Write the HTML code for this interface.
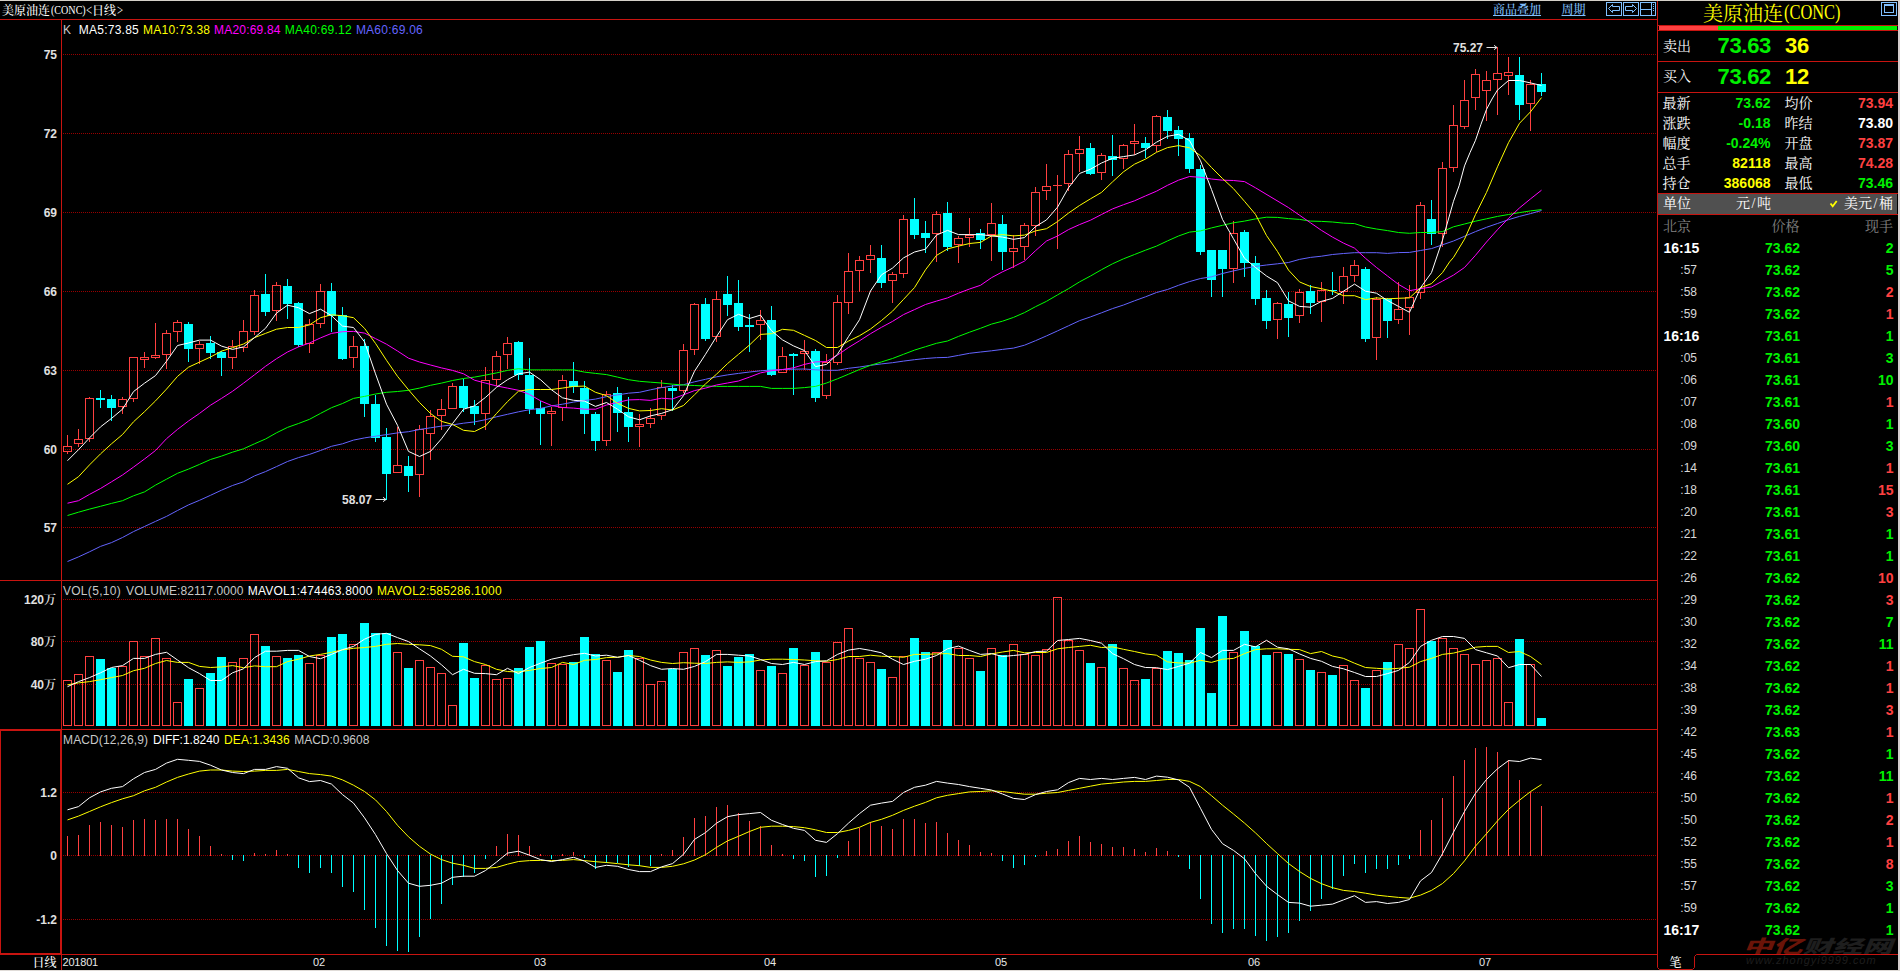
<!DOCTYPE html>
<html><head><meta charset="utf-8"><title>美原油连(CONC)</title>
<style>
html,body{margin:0;padding:0;background:#000;}
body{width:1900px;height:971px;position:relative;overflow:hidden;font-family:'Liberation Sans','Noto Serif CJK SC',sans-serif;}
svg{position:absolute;left:0;top:0;}
.t{position:absolute;white-space:nowrap;}
.sf{font-family:'Liberation Serif',serif;}
.cj{font-family:'Noto Serif CJK SC',serif;}
u{text-underline-offset:1px;}
</style></head><body>
<svg width="1900" height="971" viewBox="0 0 1900 971" shape-rendering="crispEdges">
<line x1="63" y1="54.5" x2="1657" y2="54.5" stroke="#980000" stroke-dasharray="1 1"/>
<line x1="63" y1="133.5" x2="1657" y2="133.5" stroke="#980000" stroke-dasharray="1 1"/>
<line x1="63" y1="212.5" x2="1657" y2="212.5" stroke="#980000" stroke-dasharray="1 1"/>
<line x1="63" y1="291.5" x2="1657" y2="291.5" stroke="#980000" stroke-dasharray="1 1"/>
<line x1="63" y1="370.5" x2="1657" y2="370.5" stroke="#980000" stroke-dasharray="1 1"/>
<line x1="63" y1="449.5" x2="1657" y2="449.5" stroke="#980000" stroke-dasharray="1 1"/>
<line x1="63" y1="527.5" x2="1657" y2="527.5" stroke="#980000" stroke-dasharray="1 1"/>
<line x1="63" y1="599.5" x2="1657" y2="599.5" stroke="#980000" stroke-dasharray="1 1"/>
<line x1="63" y1="641.5" x2="1657" y2="641.5" stroke="#980000" stroke-dasharray="1 1"/>
<line x1="63" y1="684.5" x2="1657" y2="684.5" stroke="#980000" stroke-dasharray="1 1"/>
<line x1="63" y1="792.5" x2="1657" y2="792.5" stroke="#980000" stroke-dasharray="1 1"/>
<line x1="63" y1="855.5" x2="1657" y2="855.5" stroke="#980000" stroke-dasharray="1 1"/>
<line x1="63" y1="919.5" x2="1657" y2="919.5" stroke="#980000" stroke-dasharray="1 1"/>
<rect x="67" y="435" width="1" height="11" fill="#ff4040"/>
<rect x="67" y="452" width="1" height="2" fill="#ff4040"/>
<rect x="63.5" y="446.5" width="8" height="5" fill="none" stroke="#ff4040"/>
<rect x="78" y="429" width="1" height="10" fill="#ff4040"/>
<rect x="78" y="444" width="1" height="3" fill="#ff4040"/>
<rect x="74.5" y="439.5" width="8" height="4" fill="none" stroke="#ff4040"/>
<rect x="89" y="397" width="1" height="1" fill="#ff4040"/>
<rect x="89" y="439" width="1" height="3" fill="#ff4040"/>
<rect x="85.5" y="398.5" width="8" height="40" fill="none" stroke="#ff4040"/>
<rect x="100" y="390" width="1" height="18" fill="#00ffff"/>
<rect x="96" y="398" width="9" height="2" fill="#00ffff"/>
<rect x="111" y="395" width="1" height="26" fill="#00ffff"/>
<rect x="107" y="399" width="9" height="9" fill="#00ffff"/>
<rect x="122" y="397" width="1" height="2" fill="#ff4040"/>
<rect x="122" y="407" width="1" height="7" fill="#ff4040"/>
<rect x="118.5" y="399.5" width="8" height="7" fill="none" stroke="#ff4040"/>
<rect x="133" y="399" width="1" height="3" fill="#ff4040"/>
<rect x="129.5" y="357.5" width="8" height="41" fill="none" stroke="#ff4040"/>
<rect x="144" y="352" width="1" height="5" fill="#ff4040"/>
<rect x="144" y="360" width="1" height="8" fill="#ff4040"/>
<rect x="140.5" y="357.5" width="8" height="2" fill="none" stroke="#ff4040"/>
<rect x="155" y="323" width="1" height="32" fill="#ff4040"/>
<rect x="155" y="358" width="1" height="1" fill="#ff4040"/>
<rect x="151.5" y="355.5" width="8" height="2" fill="none" stroke="#ff4040"/>
<rect x="166" y="330" width="1" height="3" fill="#ff4040"/>
<rect x="166" y="355" width="1" height="14" fill="#ff4040"/>
<rect x="162.5" y="333.5" width="8" height="21" fill="none" stroke="#ff4040"/>
<rect x="177" y="320" width="1" height="2" fill="#ff4040"/>
<rect x="177" y="332" width="1" height="10" fill="#ff4040"/>
<rect x="173.5" y="322.5" width="8" height="9" fill="none" stroke="#ff4040"/>
<rect x="188" y="322" width="1" height="40" fill="#00ffff"/>
<rect x="184" y="324" width="9" height="25" fill="#00ffff"/>
<rect x="199" y="341" width="1" height="3" fill="#ff4040"/>
<rect x="199" y="349" width="1" height="15" fill="#ff4040"/>
<rect x="195.5" y="344.5" width="8" height="4" fill="none" stroke="#ff4040"/>
<rect x="210" y="336" width="1" height="23" fill="#00ffff"/>
<rect x="206" y="343" width="9" height="10" fill="#00ffff"/>
<rect x="221" y="351" width="1" height="25" fill="#00ffff"/>
<rect x="217" y="352" width="9" height="6" fill="#00ffff"/>
<rect x="232" y="340" width="1" height="6" fill="#ff4040"/>
<rect x="232" y="358" width="1" height="11" fill="#ff4040"/>
<rect x="228.5" y="346.5" width="8" height="11" fill="none" stroke="#ff4040"/>
<rect x="243" y="320" width="1" height="11" fill="#ff4040"/>
<rect x="243" y="348" width="1" height="4" fill="#ff4040"/>
<rect x="239.5" y="331.5" width="8" height="16" fill="none" stroke="#ff4040"/>
<rect x="254" y="290" width="1" height="5" fill="#ff4040"/>
<rect x="254" y="332" width="1" height="3" fill="#ff4040"/>
<rect x="250.5" y="295.5" width="8" height="36" fill="none" stroke="#ff4040"/>
<rect x="265" y="274" width="1" height="42" fill="#00ffff"/>
<rect x="261" y="294" width="9" height="18" fill="#00ffff"/>
<rect x="276" y="282" width="1" height="3" fill="#ff4040"/>
<rect x="276" y="311" width="1" height="10" fill="#ff4040"/>
<rect x="272.5" y="285.5" width="8" height="25" fill="none" stroke="#ff4040"/>
<rect x="287" y="279" width="1" height="40" fill="#00ffff"/>
<rect x="283" y="286" width="9" height="18" fill="#00ffff"/>
<rect x="298" y="302" width="1" height="45" fill="#00ffff"/>
<rect x="294" y="303" width="9" height="42" fill="#00ffff"/>
<rect x="309" y="319" width="1" height="5" fill="#ff4040"/>
<rect x="309" y="344" width="1" height="9" fill="#ff4040"/>
<rect x="305.5" y="324.5" width="8" height="19" fill="none" stroke="#ff4040"/>
<rect x="320" y="284" width="1" height="7" fill="#ff4040"/>
<rect x="320" y="324" width="1" height="4" fill="#ff4040"/>
<rect x="316.5" y="291.5" width="8" height="32" fill="none" stroke="#ff4040"/>
<rect x="331" y="283" width="1" height="49" fill="#00ffff"/>
<rect x="327" y="291" width="9" height="25" fill="#00ffff"/>
<rect x="342" y="307" width="1" height="53" fill="#00ffff"/>
<rect x="338" y="315" width="9" height="44" fill="#00ffff"/>
<rect x="353" y="336" width="1" height="10" fill="#ff4040"/>
<rect x="353" y="358" width="1" height="10" fill="#ff4040"/>
<rect x="349.5" y="346.5" width="8" height="11" fill="none" stroke="#ff4040"/>
<rect x="364" y="339" width="1" height="78" fill="#00ffff"/>
<rect x="360" y="346" width="9" height="58" fill="#00ffff"/>
<rect x="375" y="395" width="1" height="47" fill="#00ffff"/>
<rect x="371" y="404" width="9" height="34" fill="#00ffff"/>
<rect x="386" y="428" width="1" height="72" fill="#00ffff"/>
<rect x="382" y="437" width="9" height="37" fill="#00ffff"/>
<rect x="397" y="427" width="1" height="38" fill="#ff4040"/>
<rect x="393.5" y="465.5" width="8" height="7" fill="none" stroke="#ff4040"/>
<rect x="408" y="456" width="1" height="36" fill="#00ffff"/>
<rect x="404" y="466" width="9" height="10" fill="#00ffff"/>
<rect x="419" y="425" width="1" height="4" fill="#ff4040"/>
<rect x="419" y="475" width="1" height="22" fill="#ff4040"/>
<rect x="415.5" y="429.5" width="8" height="45" fill="none" stroke="#ff4040"/>
<rect x="430" y="410" width="1" height="6" fill="#ff4040"/>
<rect x="430" y="434" width="1" height="26" fill="#ff4040"/>
<rect x="426.5" y="416.5" width="8" height="17" fill="none" stroke="#ff4040"/>
<rect x="441" y="399" width="1" height="10" fill="#ff4040"/>
<rect x="441" y="416" width="1" height="14" fill="#ff4040"/>
<rect x="437.5" y="409.5" width="8" height="6" fill="none" stroke="#ff4040"/>
<rect x="452" y="383" width="1" height="3" fill="#ff4040"/>
<rect x="448.5" y="386.5" width="8" height="22" fill="none" stroke="#ff4040"/>
<rect x="463" y="379" width="1" height="33" fill="#00ffff"/>
<rect x="459" y="386" width="9" height="22" fill="#00ffff"/>
<rect x="474" y="400" width="1" height="25" fill="#00ffff"/>
<rect x="470" y="406" width="9" height="8" fill="#00ffff"/>
<rect x="485" y="367" width="1" height="13" fill="#ff4040"/>
<rect x="485" y="414" width="1" height="16" fill="#ff4040"/>
<rect x="481.5" y="380.5" width="8" height="33" fill="none" stroke="#ff4040"/>
<rect x="496" y="351" width="1" height="5" fill="#ff4040"/>
<rect x="496" y="380" width="1" height="6" fill="#ff4040"/>
<rect x="492.5" y="356.5" width="8" height="23" fill="none" stroke="#ff4040"/>
<rect x="507" y="337" width="1" height="6" fill="#ff4040"/>
<rect x="507" y="355" width="1" height="14" fill="#ff4040"/>
<rect x="503.5" y="343.5" width="8" height="11" fill="none" stroke="#ff4040"/>
<rect x="518" y="341" width="1" height="39" fill="#00ffff"/>
<rect x="514" y="342" width="9" height="33" fill="#00ffff"/>
<rect x="529" y="358" width="1" height="56" fill="#00ffff"/>
<rect x="525" y="375" width="9" height="34" fill="#00ffff"/>
<rect x="540" y="401" width="1" height="44" fill="#00ffff"/>
<rect x="536" y="408" width="9" height="6" fill="#00ffff"/>
<rect x="551" y="407" width="1" height="4" fill="#ff4040"/>
<rect x="551" y="414" width="1" height="32" fill="#ff4040"/>
<rect x="547.5" y="411.5" width="8" height="2" fill="none" stroke="#ff4040"/>
<rect x="562" y="375" width="1" height="5" fill="#ff4040"/>
<rect x="562" y="408" width="1" height="13" fill="#ff4040"/>
<rect x="558.5" y="380.5" width="8" height="27" fill="none" stroke="#ff4040"/>
<rect x="573" y="362" width="1" height="31" fill="#00ffff"/>
<rect x="569" y="381" width="9" height="6" fill="#00ffff"/>
<rect x="584" y="381" width="1" height="53" fill="#00ffff"/>
<rect x="580" y="388" width="9" height="26" fill="#00ffff"/>
<rect x="595" y="412" width="1" height="39" fill="#00ffff"/>
<rect x="591" y="414" width="9" height="27" fill="#00ffff"/>
<rect x="606" y="391" width="1" height="3" fill="#ff4040"/>
<rect x="606" y="441" width="1" height="5" fill="#ff4040"/>
<rect x="602.5" y="394.5" width="8" height="46" fill="none" stroke="#ff4040"/>
<rect x="617" y="387" width="1" height="45" fill="#00ffff"/>
<rect x="613" y="393" width="9" height="20" fill="#00ffff"/>
<rect x="628" y="397" width="1" height="45" fill="#00ffff"/>
<rect x="624" y="412" width="9" height="15" fill="#00ffff"/>
<rect x="639" y="414" width="1" height="10" fill="#ff4040"/>
<rect x="639" y="427" width="1" height="20" fill="#ff4040"/>
<rect x="635.5" y="424.5" width="8" height="2" fill="none" stroke="#ff4040"/>
<rect x="650" y="408" width="1" height="10" fill="#ff4040"/>
<rect x="650" y="424" width="1" height="4" fill="#ff4040"/>
<rect x="646.5" y="418.5" width="8" height="5" fill="none" stroke="#ff4040"/>
<rect x="661" y="380" width="1" height="7" fill="#ff4040"/>
<rect x="661" y="416" width="1" height="4" fill="#ff4040"/>
<rect x="657.5" y="387.5" width="8" height="28" fill="none" stroke="#ff4040"/>
<rect x="672" y="385" width="1" height="26" fill="#00ffff"/>
<rect x="668" y="388" width="9" height="3" fill="#00ffff"/>
<rect x="683" y="344" width="1" height="6" fill="#ff4040"/>
<rect x="683" y="391" width="1" height="2" fill="#ff4040"/>
<rect x="679.5" y="350.5" width="8" height="40" fill="none" stroke="#ff4040"/>
<rect x="694" y="303" width="1" height="1" fill="#ff4040"/>
<rect x="694" y="350" width="1" height="5" fill="#ff4040"/>
<rect x="690.5" y="304.5" width="8" height="45" fill="none" stroke="#ff4040"/>
<rect x="705" y="298" width="1" height="43" fill="#00ffff"/>
<rect x="701" y="304" width="9" height="35" fill="#00ffff"/>
<rect x="716" y="291" width="1" height="8" fill="#ff4040"/>
<rect x="716" y="337" width="1" height="5" fill="#ff4040"/>
<rect x="712.5" y="299.5" width="8" height="37" fill="none" stroke="#ff4040"/>
<rect x="727" y="276" width="1" height="40" fill="#00ffff"/>
<rect x="723" y="294" width="9" height="11" fill="#00ffff"/>
<rect x="738" y="280" width="1" height="51" fill="#00ffff"/>
<rect x="734" y="303" width="9" height="24" fill="#00ffff"/>
<rect x="749" y="314" width="1" height="38" fill="#00ffff"/>
<rect x="745" y="325" width="9" height="2" fill="#00ffff"/>
<rect x="760" y="310" width="1" height="10" fill="#ff4040"/>
<rect x="760" y="325" width="1" height="15" fill="#ff4040"/>
<rect x="756.5" y="320.5" width="8" height="4" fill="none" stroke="#ff4040"/>
<rect x="771" y="306" width="1" height="70" fill="#00ffff"/>
<rect x="767" y="320" width="9" height="55" fill="#00ffff"/>
<rect x="782" y="347" width="1" height="9" fill="#ff4040"/>
<rect x="778.5" y="356.5" width="8" height="16" fill="none" stroke="#ff4040"/>
<rect x="793" y="353" width="1" height="42" fill="#00ffff"/>
<rect x="789" y="354" width="9" height="2" fill="#00ffff"/>
<rect x="804" y="340" width="1" height="11" fill="#ff4040"/>
<rect x="804" y="354" width="1" height="16" fill="#ff4040"/>
<rect x="800.5" y="351.5" width="8" height="2" fill="none" stroke="#ff4040"/>
<rect x="815" y="349" width="1" height="53" fill="#00ffff"/>
<rect x="811" y="351" width="9" height="47" fill="#00ffff"/>
<rect x="826" y="354" width="1" height="8" fill="#ff4040"/>
<rect x="826" y="396" width="1" height="3" fill="#ff4040"/>
<rect x="822.5" y="362.5" width="8" height="33" fill="none" stroke="#ff4040"/>
<rect x="837" y="295" width="1" height="7" fill="#ff4040"/>
<rect x="837" y="363" width="1" height="2" fill="#ff4040"/>
<rect x="833.5" y="302.5" width="8" height="60" fill="none" stroke="#ff4040"/>
<rect x="848" y="253" width="1" height="18" fill="#ff4040"/>
<rect x="848" y="303" width="1" height="11" fill="#ff4040"/>
<rect x="844.5" y="271.5" width="8" height="31" fill="none" stroke="#ff4040"/>
<rect x="859" y="256" width="1" height="4" fill="#ff4040"/>
<rect x="859" y="271" width="1" height="21" fill="#ff4040"/>
<rect x="855.5" y="260.5" width="8" height="10" fill="none" stroke="#ff4040"/>
<rect x="870" y="245" width="1" height="10" fill="#ff4040"/>
<rect x="870" y="260" width="1" height="13" fill="#ff4040"/>
<rect x="866.5" y="255.5" width="8" height="4" fill="none" stroke="#ff4040"/>
<rect x="881" y="245" width="1" height="43" fill="#00ffff"/>
<rect x="877" y="258" width="9" height="25" fill="#00ffff"/>
<rect x="892" y="272" width="1" height="2" fill="#ff4040"/>
<rect x="892" y="281" width="1" height="22" fill="#ff4040"/>
<rect x="888.5" y="274.5" width="8" height="6" fill="none" stroke="#ff4040"/>
<rect x="903" y="215" width="1" height="4" fill="#ff4040"/>
<rect x="903" y="274" width="1" height="4" fill="#ff4040"/>
<rect x="899.5" y="219.5" width="8" height="54" fill="none" stroke="#ff4040"/>
<rect x="914" y="198" width="1" height="41" fill="#00ffff"/>
<rect x="910" y="219" width="9" height="16" fill="#00ffff"/>
<rect x="925" y="221" width="1" height="32" fill="#00ffff"/>
<rect x="921" y="233" width="9" height="5" fill="#00ffff"/>
<rect x="936" y="211" width="1" height="3" fill="#ff4040"/>
<rect x="936" y="234" width="1" height="28" fill="#ff4040"/>
<rect x="932.5" y="214.5" width="8" height="19" fill="none" stroke="#ff4040"/>
<rect x="947" y="202" width="1" height="49" fill="#00ffff"/>
<rect x="943" y="213" width="9" height="34" fill="#00ffff"/>
<rect x="958" y="236" width="1" height="2" fill="#ff4040"/>
<rect x="958" y="245" width="1" height="18" fill="#ff4040"/>
<rect x="954.5" y="238.5" width="8" height="6" fill="none" stroke="#ff4040"/>
<rect x="969" y="218" width="1" height="17" fill="#ff4040"/>
<rect x="969" y="238" width="1" height="9" fill="#ff4040"/>
<rect x="965.5" y="235.5" width="8" height="2" fill="none" stroke="#ff4040"/>
<rect x="980" y="229" width="1" height="20" fill="#00ffff"/>
<rect x="976" y="233" width="9" height="7" fill="#00ffff"/>
<rect x="991" y="203" width="1" height="20" fill="#ff4040"/>
<rect x="991" y="235" width="1" height="26" fill="#ff4040"/>
<rect x="987.5" y="223.5" width="8" height="11" fill="none" stroke="#ff4040"/>
<rect x="1002" y="215" width="1" height="55" fill="#00ffff"/>
<rect x="998" y="224" width="9" height="28" fill="#00ffff"/>
<rect x="1013" y="235" width="1" height="13" fill="#ff4040"/>
<rect x="1013" y="252" width="1" height="16" fill="#ff4040"/>
<rect x="1009.5" y="248.5" width="8" height="3" fill="none" stroke="#ff4040"/>
<rect x="1024" y="223" width="1" height="2" fill="#ff4040"/>
<rect x="1024" y="247" width="1" height="13" fill="#ff4040"/>
<rect x="1020.5" y="225.5" width="8" height="21" fill="none" stroke="#ff4040"/>
<rect x="1035" y="187" width="1" height="5" fill="#ff4040"/>
<rect x="1035" y="226" width="1" height="10" fill="#ff4040"/>
<rect x="1031.5" y="192.5" width="8" height="33" fill="none" stroke="#ff4040"/>
<rect x="1046" y="164" width="1" height="22" fill="#ff4040"/>
<rect x="1046" y="191" width="1" height="9" fill="#ff4040"/>
<rect x="1042.5" y="186.5" width="8" height="4" fill="none" stroke="#ff4040"/>
<rect x="1057" y="175" width="1" height="10" fill="#ff4040"/>
<rect x="1057" y="186" width="1" height="63" fill="#ff4040"/>
<rect x="1053" y="185" width="9" height="1" fill="#ff4040"/>
<rect x="1068" y="150" width="1" height="4" fill="#ff4040"/>
<rect x="1068" y="184" width="1" height="7" fill="#ff4040"/>
<rect x="1064.5" y="154.5" width="8" height="29" fill="none" stroke="#ff4040"/>
<rect x="1079" y="136" width="1" height="13" fill="#ff4040"/>
<rect x="1079" y="154" width="1" height="18" fill="#ff4040"/>
<rect x="1075.5" y="149.5" width="8" height="4" fill="none" stroke="#ff4040"/>
<rect x="1090" y="143" width="1" height="32" fill="#00ffff"/>
<rect x="1086" y="148" width="9" height="26" fill="#00ffff"/>
<rect x="1101" y="153" width="1" height="2" fill="#ff4040"/>
<rect x="1101" y="173" width="1" height="7" fill="#ff4040"/>
<rect x="1097.5" y="155.5" width="8" height="17" fill="none" stroke="#ff4040"/>
<rect x="1112" y="135" width="1" height="41" fill="#00ffff"/>
<rect x="1108" y="156" width="9" height="4" fill="#00ffff"/>
<rect x="1123" y="144" width="1" height="1" fill="#ff4040"/>
<rect x="1123" y="159" width="1" height="10" fill="#ff4040"/>
<rect x="1119.5" y="145.5" width="8" height="13" fill="none" stroke="#ff4040"/>
<rect x="1134" y="124" width="1" height="17" fill="#ff4040"/>
<rect x="1134" y="144" width="1" height="11" fill="#ff4040"/>
<rect x="1130.5" y="141.5" width="8" height="2" fill="none" stroke="#ff4040"/>
<rect x="1145" y="137" width="1" height="21" fill="#00ffff"/>
<rect x="1141" y="143" width="9" height="5" fill="#00ffff"/>
<rect x="1156" y="115" width="1" height="1" fill="#ff4040"/>
<rect x="1156" y="146" width="1" height="6" fill="#ff4040"/>
<rect x="1152.5" y="116.5" width="8" height="29" fill="none" stroke="#ff4040"/>
<rect x="1167" y="110" width="1" height="29" fill="#00ffff"/>
<rect x="1163" y="117" width="9" height="14" fill="#00ffff"/>
<rect x="1178" y="126" width="1" height="30" fill="#00ffff"/>
<rect x="1174" y="130" width="9" height="9" fill="#00ffff"/>
<rect x="1189" y="133" width="1" height="40" fill="#00ffff"/>
<rect x="1185" y="138" width="9" height="31" fill="#00ffff"/>
<rect x="1200" y="165" width="1" height="90" fill="#00ffff"/>
<rect x="1196" y="169" width="9" height="83" fill="#00ffff"/>
<rect x="1211" y="250" width="1" height="47" fill="#00ffff"/>
<rect x="1207" y="250" width="9" height="30" fill="#00ffff"/>
<rect x="1222" y="250" width="1" height="47" fill="#00ffff"/>
<rect x="1218" y="250" width="9" height="19" fill="#00ffff"/>
<rect x="1233" y="221" width="1" height="12" fill="#ff4040"/>
<rect x="1233" y="269" width="1" height="14" fill="#ff4040"/>
<rect x="1229.5" y="233.5" width="8" height="35" fill="none" stroke="#ff4040"/>
<rect x="1244" y="230" width="1" height="47" fill="#00ffff"/>
<rect x="1240" y="232" width="9" height="31" fill="#00ffff"/>
<rect x="1255" y="256" width="1" height="49" fill="#00ffff"/>
<rect x="1251" y="263" width="9" height="36" fill="#00ffff"/>
<rect x="1266" y="290" width="1" height="39" fill="#00ffff"/>
<rect x="1262" y="298" width="9" height="23" fill="#00ffff"/>
<rect x="1277" y="302" width="1" height="1" fill="#ff4040"/>
<rect x="1277" y="320" width="1" height="19" fill="#ff4040"/>
<rect x="1273.5" y="303.5" width="8" height="16" fill="none" stroke="#ff4040"/>
<rect x="1288" y="292" width="1" height="45" fill="#00ffff"/>
<rect x="1284" y="304" width="9" height="14" fill="#00ffff"/>
<rect x="1299" y="289" width="1" height="3" fill="#ff4040"/>
<rect x="1299" y="316" width="1" height="7" fill="#ff4040"/>
<rect x="1295.5" y="292.5" width="8" height="23" fill="none" stroke="#ff4040"/>
<rect x="1310" y="285" width="1" height="29" fill="#00ffff"/>
<rect x="1306" y="291" width="9" height="12" fill="#00ffff"/>
<rect x="1321" y="282" width="1" height="8" fill="#ff4040"/>
<rect x="1321" y="302" width="1" height="20" fill="#ff4040"/>
<rect x="1317.5" y="290.5" width="8" height="11" fill="none" stroke="#ff4040"/>
<rect x="1332" y="272" width="1" height="23" fill="#00ffff"/>
<rect x="1328" y="290" width="9" height="1" fill="#00ffff"/>
<rect x="1343" y="267" width="1" height="9" fill="#ff4040"/>
<rect x="1343" y="292" width="1" height="12" fill="#ff4040"/>
<rect x="1339.5" y="276.5" width="8" height="15" fill="none" stroke="#ff4040"/>
<rect x="1354" y="260" width="1" height="5" fill="#ff4040"/>
<rect x="1354" y="276" width="1" height="6" fill="#ff4040"/>
<rect x="1350.5" y="265.5" width="8" height="10" fill="none" stroke="#ff4040"/>
<rect x="1365" y="267" width="1" height="75" fill="#00ffff"/>
<rect x="1361" y="269" width="9" height="70" fill="#00ffff"/>
<rect x="1376" y="297" width="1" height="2" fill="#ff4040"/>
<rect x="1376" y="338" width="1" height="22" fill="#ff4040"/>
<rect x="1372.5" y="299.5" width="8" height="38" fill="none" stroke="#ff4040"/>
<rect x="1387" y="298" width="1" height="40" fill="#00ffff"/>
<rect x="1383" y="299" width="9" height="22" fill="#00ffff"/>
<rect x="1398" y="282" width="1" height="27" fill="#ff4040"/>
<rect x="1398" y="320" width="1" height="4" fill="#ff4040"/>
<rect x="1394.5" y="309.5" width="8" height="10" fill="none" stroke="#ff4040"/>
<rect x="1409" y="285" width="1" height="12" fill="#ff4040"/>
<rect x="1409" y="308" width="1" height="27" fill="#ff4040"/>
<rect x="1405.5" y="297.5" width="8" height="10" fill="none" stroke="#ff4040"/>
<rect x="1420" y="202" width="1" height="3" fill="#ff4040"/>
<rect x="1420" y="293" width="1" height="6" fill="#ff4040"/>
<rect x="1416.5" y="205.5" width="8" height="87" fill="none" stroke="#ff4040"/>
<rect x="1431" y="200" width="1" height="45" fill="#00ffff"/>
<rect x="1427" y="219" width="9" height="15" fill="#00ffff"/>
<rect x="1442" y="162" width="1" height="6" fill="#ff4040"/>
<rect x="1442" y="234" width="1" height="13" fill="#ff4040"/>
<rect x="1438.5" y="168.5" width="8" height="65" fill="none" stroke="#ff4040"/>
<rect x="1453" y="105" width="1" height="20" fill="#ff4040"/>
<rect x="1453" y="168" width="1" height="4" fill="#ff4040"/>
<rect x="1449.5" y="125.5" width="8" height="42" fill="none" stroke="#ff4040"/>
<rect x="1464" y="80" width="1" height="20" fill="#ff4040"/>
<rect x="1464" y="127" width="1" height="2" fill="#ff4040"/>
<rect x="1460.5" y="100.5" width="8" height="26" fill="none" stroke="#ff4040"/>
<rect x="1475" y="69" width="1" height="5" fill="#ff4040"/>
<rect x="1475" y="98" width="1" height="12" fill="#ff4040"/>
<rect x="1471.5" y="74.5" width="8" height="23" fill="none" stroke="#ff4040"/>
<rect x="1486" y="71" width="1" height="9" fill="#ff4040"/>
<rect x="1486" y="91" width="1" height="30" fill="#ff4040"/>
<rect x="1482.5" y="80.5" width="8" height="10" fill="none" stroke="#ff4040"/>
<rect x="1497" y="47" width="1" height="26" fill="#ff4040"/>
<rect x="1497" y="80" width="1" height="35" fill="#ff4040"/>
<rect x="1493.5" y="73.5" width="8" height="6" fill="none" stroke="#ff4040"/>
<rect x="1508" y="57" width="1" height="15" fill="#ff4040"/>
<rect x="1508" y="76" width="1" height="19" fill="#ff4040"/>
<rect x="1504.5" y="72.5" width="8" height="3" fill="none" stroke="#ff4040"/>
<rect x="1519" y="57" width="1" height="63" fill="#00ffff"/>
<rect x="1515" y="75" width="9" height="30" fill="#00ffff"/>
<rect x="1530" y="80" width="1" height="4" fill="#ff4040"/>
<rect x="1530" y="104" width="1" height="27" fill="#ff4040"/>
<rect x="1526.5" y="84.5" width="8" height="19" fill="none" stroke="#ff4040"/>
<rect x="1541" y="73" width="1" height="23" fill="#00ffff"/>
<rect x="1537" y="84" width="9" height="8" fill="#00ffff"/>
<rect x="63.5" y="680.5" width="8" height="45" fill="none" stroke="#ff4040"/>
<rect x="74.5" y="674.5" width="8" height="51" fill="none" stroke="#ff4040"/>
<rect x="85.5" y="656.5" width="8" height="69" fill="none" stroke="#ff4040"/>
<rect x="96" y="659" width="9" height="67" fill="#00ffff"/>
<rect x="107" y="668" width="9" height="58" fill="#00ffff"/>
<rect x="118.5" y="666.5" width="8" height="59" fill="none" stroke="#ff4040"/>
<rect x="129.5" y="641.5" width="8" height="84" fill="none" stroke="#ff4040"/>
<rect x="140.5" y="656.5" width="8" height="69" fill="none" stroke="#ff4040"/>
<rect x="151.5" y="638.5" width="8" height="87" fill="none" stroke="#ff4040"/>
<rect x="162.5" y="658.5" width="8" height="67" fill="none" stroke="#ff4040"/>
<rect x="173.5" y="702.5" width="8" height="23" fill="none" stroke="#ff4040"/>
<rect x="184" y="679" width="9" height="47" fill="#00ffff"/>
<rect x="195.5" y="688.5" width="8" height="37" fill="none" stroke="#ff4040"/>
<rect x="206" y="673" width="9" height="53" fill="#00ffff"/>
<rect x="217" y="657" width="9" height="69" fill="#00ffff"/>
<rect x="228.5" y="662.5" width="8" height="63" fill="none" stroke="#ff4040"/>
<rect x="239.5" y="658.5" width="8" height="67" fill="none" stroke="#ff4040"/>
<rect x="250.5" y="634.5" width="8" height="91" fill="none" stroke="#ff4040"/>
<rect x="261" y="646" width="9" height="80" fill="#00ffff"/>
<rect x="272.5" y="656.5" width="8" height="69" fill="none" stroke="#ff4040"/>
<rect x="283" y="658" width="9" height="68" fill="#00ffff"/>
<rect x="294" y="655" width="9" height="71" fill="#00ffff"/>
<rect x="305.5" y="663.5" width="8" height="62" fill="none" stroke="#ff4040"/>
<rect x="316.5" y="655.5" width="8" height="70" fill="none" stroke="#ff4040"/>
<rect x="327" y="637" width="9" height="89" fill="#00ffff"/>
<rect x="338" y="634" width="9" height="92" fill="#00ffff"/>
<rect x="349.5" y="644.5" width="8" height="81" fill="none" stroke="#ff4040"/>
<rect x="360" y="623" width="9" height="103" fill="#00ffff"/>
<rect x="371" y="633" width="9" height="93" fill="#00ffff"/>
<rect x="382" y="633" width="9" height="93" fill="#00ffff"/>
<rect x="393.5" y="652.5" width="8" height="73" fill="none" stroke="#ff4040"/>
<rect x="404" y="668" width="9" height="58" fill="#00ffff"/>
<rect x="415.5" y="660.5" width="8" height="65" fill="none" stroke="#ff4040"/>
<rect x="426.5" y="667.5" width="8" height="58" fill="none" stroke="#ff4040"/>
<rect x="437.5" y="673.5" width="8" height="52" fill="none" stroke="#ff4040"/>
<rect x="448.5" y="705.5" width="8" height="20" fill="none" stroke="#ff4040"/>
<rect x="459" y="643" width="9" height="83" fill="#00ffff"/>
<rect x="470" y="678" width="9" height="48" fill="#00ffff"/>
<rect x="481.5" y="665.5" width="8" height="60" fill="none" stroke="#ff4040"/>
<rect x="492.5" y="679.5" width="8" height="46" fill="none" stroke="#ff4040"/>
<rect x="503.5" y="678.5" width="8" height="47" fill="none" stroke="#ff4040"/>
<rect x="514" y="668" width="9" height="58" fill="#00ffff"/>
<rect x="525" y="647" width="9" height="79" fill="#00ffff"/>
<rect x="536" y="641" width="9" height="85" fill="#00ffff"/>
<rect x="547.5" y="663.5" width="8" height="62" fill="none" stroke="#ff4040"/>
<rect x="558.5" y="664.5" width="8" height="61" fill="none" stroke="#ff4040"/>
<rect x="569" y="662" width="9" height="64" fill="#00ffff"/>
<rect x="580" y="637" width="9" height="89" fill="#00ffff"/>
<rect x="591" y="654" width="9" height="72" fill="#00ffff"/>
<rect x="602.5" y="660.5" width="8" height="65" fill="none" stroke="#ff4040"/>
<rect x="613" y="672" width="9" height="54" fill="#00ffff"/>
<rect x="624" y="650" width="9" height="76" fill="#00ffff"/>
<rect x="635.5" y="658.5" width="8" height="67" fill="none" stroke="#ff4040"/>
<rect x="646.5" y="684.5" width="8" height="41" fill="none" stroke="#ff4040"/>
<rect x="657.5" y="681.5" width="8" height="44" fill="none" stroke="#ff4040"/>
<rect x="668" y="669" width="9" height="57" fill="#00ffff"/>
<rect x="679.5" y="652.5" width="8" height="73" fill="none" stroke="#ff4040"/>
<rect x="690.5" y="648.5" width="8" height="77" fill="none" stroke="#ff4040"/>
<rect x="701" y="655" width="9" height="71" fill="#00ffff"/>
<rect x="712.5" y="650.5" width="8" height="75" fill="none" stroke="#ff4040"/>
<rect x="723" y="666" width="9" height="60" fill="#00ffff"/>
<rect x="734" y="657" width="9" height="69" fill="#00ffff"/>
<rect x="745" y="654" width="9" height="72" fill="#00ffff"/>
<rect x="756.5" y="670.5" width="8" height="55" fill="none" stroke="#ff4040"/>
<rect x="767" y="666" width="9" height="60" fill="#00ffff"/>
<rect x="778.5" y="673.5" width="8" height="52" fill="none" stroke="#ff4040"/>
<rect x="789" y="648" width="9" height="78" fill="#00ffff"/>
<rect x="800.5" y="665.5" width="8" height="60" fill="none" stroke="#ff4040"/>
<rect x="811" y="652" width="9" height="74" fill="#00ffff"/>
<rect x="822.5" y="662.5" width="8" height="63" fill="none" stroke="#ff4040"/>
<rect x="833.5" y="642.5" width="8" height="83" fill="none" stroke="#ff4040"/>
<rect x="844.5" y="628.5" width="8" height="97" fill="none" stroke="#ff4040"/>
<rect x="855.5" y="658.5" width="8" height="67" fill="none" stroke="#ff4040"/>
<rect x="866.5" y="662.5" width="8" height="63" fill="none" stroke="#ff4040"/>
<rect x="877" y="669" width="9" height="57" fill="#00ffff"/>
<rect x="888.5" y="677.5" width="8" height="48" fill="none" stroke="#ff4040"/>
<rect x="899.5" y="656.5" width="8" height="69" fill="none" stroke="#ff4040"/>
<rect x="910" y="638" width="9" height="88" fill="#00ffff"/>
<rect x="921" y="652" width="9" height="74" fill="#00ffff"/>
<rect x="932.5" y="652.5" width="8" height="73" fill="none" stroke="#ff4040"/>
<rect x="943" y="640" width="9" height="86" fill="#00ffff"/>
<rect x="954.5" y="648.5" width="8" height="77" fill="none" stroke="#ff4040"/>
<rect x="965.5" y="658.5" width="8" height="67" fill="none" stroke="#ff4040"/>
<rect x="976" y="671" width="9" height="55" fill="#00ffff"/>
<rect x="987.5" y="648.5" width="8" height="77" fill="none" stroke="#ff4040"/>
<rect x="998" y="655" width="9" height="71" fill="#00ffff"/>
<rect x="1009.5" y="644.5" width="8" height="81" fill="none" stroke="#ff4040"/>
<rect x="1020.5" y="654.5" width="8" height="71" fill="none" stroke="#ff4040"/>
<rect x="1031.5" y="655.5" width="8" height="70" fill="none" stroke="#ff4040"/>
<rect x="1042.5" y="649.5" width="8" height="76" fill="none" stroke="#ff4040"/>
<rect x="1053.5" y="597.5" width="8" height="128" fill="none" stroke="#ff4040"/>
<rect x="1064.5" y="640.5" width="8" height="85" fill="none" stroke="#ff4040"/>
<rect x="1075.5" y="650.5" width="8" height="75" fill="none" stroke="#ff4040"/>
<rect x="1086" y="663" width="9" height="63" fill="#00ffff"/>
<rect x="1097.5" y="667.5" width="8" height="58" fill="none" stroke="#ff4040"/>
<rect x="1108" y="644" width="9" height="82" fill="#00ffff"/>
<rect x="1119.5" y="668.5" width="8" height="57" fill="none" stroke="#ff4040"/>
<rect x="1130.5" y="680.5" width="8" height="45" fill="none" stroke="#ff4040"/>
<rect x="1141" y="679" width="9" height="47" fill="#00ffff"/>
<rect x="1152.5" y="668.5" width="8" height="57" fill="none" stroke="#ff4040"/>
<rect x="1163" y="651" width="9" height="75" fill="#00ffff"/>
<rect x="1174" y="653" width="9" height="73" fill="#00ffff"/>
<rect x="1185" y="660" width="9" height="66" fill="#00ffff"/>
<rect x="1196" y="628" width="9" height="98" fill="#00ffff"/>
<rect x="1207" y="693" width="9" height="33" fill="#00ffff"/>
<rect x="1218" y="616" width="9" height="110" fill="#00ffff"/>
<rect x="1229.5" y="652.5" width="8" height="73" fill="none" stroke="#ff4040"/>
<rect x="1240" y="631" width="9" height="95" fill="#00ffff"/>
<rect x="1251" y="646" width="9" height="80" fill="#00ffff"/>
<rect x="1262" y="655" width="9" height="71" fill="#00ffff"/>
<rect x="1273.5" y="652.5" width="8" height="73" fill="none" stroke="#ff4040"/>
<rect x="1284" y="654" width="9" height="72" fill="#00ffff"/>
<rect x="1295.5" y="659.5" width="8" height="66" fill="none" stroke="#ff4040"/>
<rect x="1306" y="670" width="9" height="56" fill="#00ffff"/>
<rect x="1317.5" y="672.5" width="8" height="53" fill="none" stroke="#ff4040"/>
<rect x="1328" y="675" width="9" height="51" fill="#00ffff"/>
<rect x="1339.5" y="665.5" width="8" height="60" fill="none" stroke="#ff4040"/>
<rect x="1350.5" y="680.5" width="8" height="45" fill="none" stroke="#ff4040"/>
<rect x="1361" y="688" width="9" height="38" fill="#00ffff"/>
<rect x="1372.5" y="670.5" width="8" height="55" fill="none" stroke="#ff4040"/>
<rect x="1383" y="662" width="9" height="64" fill="#00ffff"/>
<rect x="1394.5" y="644.5" width="8" height="81" fill="none" stroke="#ff4040"/>
<rect x="1405.5" y="648.5" width="8" height="77" fill="none" stroke="#ff4040"/>
<rect x="1416.5" y="609.5" width="8" height="116" fill="none" stroke="#ff4040"/>
<rect x="1427" y="641" width="9" height="85" fill="#00ffff"/>
<rect x="1438.5" y="638.5" width="8" height="87" fill="none" stroke="#ff4040"/>
<rect x="1449.5" y="648.5" width="8" height="77" fill="none" stroke="#ff4040"/>
<rect x="1460.5" y="654.5" width="8" height="71" fill="none" stroke="#ff4040"/>
<rect x="1471.5" y="664.5" width="8" height="61" fill="none" stroke="#ff4040"/>
<rect x="1482.5" y="660.5" width="8" height="65" fill="none" stroke="#ff4040"/>
<rect x="1493.5" y="658.5" width="8" height="67" fill="none" stroke="#ff4040"/>
<rect x="1504.5" y="702.5" width="8" height="23" fill="none" stroke="#ff4040"/>
<rect x="1515" y="639" width="9" height="87" fill="#00ffff"/>
<rect x="1526.5" y="664.5" width="8" height="61" fill="none" stroke="#ff4040"/>
<rect x="1537" y="718" width="9" height="8" fill="#00ffff"/>
<rect x="67" y="836" width="1" height="20" fill="#ff4040"/>
<rect x="78" y="835" width="1" height="21" fill="#ff4040"/>
<rect x="89" y="825" width="1" height="31" fill="#ff4040"/>
<rect x="100" y="822" width="1" height="34" fill="#ff4040"/>
<rect x="111" y="825" width="1" height="31" fill="#ff4040"/>
<rect x="122" y="827" width="1" height="29" fill="#ff4040"/>
<rect x="133" y="820" width="1" height="36" fill="#ff4040"/>
<rect x="144" y="819" width="1" height="37" fill="#ff4040"/>
<rect x="155" y="820" width="1" height="36" fill="#ff4040"/>
<rect x="166" y="819" width="1" height="37" fill="#ff4040"/>
<rect x="177" y="819" width="1" height="37" fill="#ff4040"/>
<rect x="188" y="829" width="1" height="27" fill="#ff4040"/>
<rect x="199" y="836" width="1" height="20" fill="#ff4040"/>
<rect x="210" y="846" width="1" height="10" fill="#ff4040"/>
<rect x="221" y="854" width="1" height="2" fill="#ff4040"/>
<rect x="232" y="855" width="1" height="5" fill="#00ffff"/>
<rect x="243" y="855" width="1" height="6" fill="#00ffff"/>
<rect x="254" y="853" width="1" height="3" fill="#ff4040"/>
<rect x="265" y="854" width="1" height="2" fill="#ff4040"/>
<rect x="276" y="850" width="1" height="6" fill="#ff4040"/>
<rect x="287" y="854" width="1" height="2" fill="#ff4040"/>
<rect x="298" y="855" width="1" height="13" fill="#00ffff"/>
<rect x="309" y="855" width="1" height="18" fill="#00ffff"/>
<rect x="320" y="855" width="1" height="13" fill="#00ffff"/>
<rect x="331" y="855" width="1" height="18" fill="#00ffff"/>
<rect x="342" y="855" width="1" height="32" fill="#00ffff"/>
<rect x="353" y="855" width="1" height="37" fill="#00ffff"/>
<rect x="364" y="855" width="1" height="55" fill="#00ffff"/>
<rect x="375" y="855" width="1" height="73" fill="#00ffff"/>
<rect x="386" y="855" width="1" height="91" fill="#00ffff"/>
<rect x="397" y="855" width="1" height="96" fill="#00ffff"/>
<rect x="408" y="855" width="1" height="97" fill="#00ffff"/>
<rect x="419" y="855" width="1" height="82" fill="#00ffff"/>
<rect x="430" y="855" width="1" height="64" fill="#00ffff"/>
<rect x="441" y="855" width="1" height="49" fill="#00ffff"/>
<rect x="452" y="855" width="1" height="30" fill="#00ffff"/>
<rect x="463" y="855" width="1" height="22" fill="#00ffff"/>
<rect x="474" y="855" width="1" height="18" fill="#00ffff"/>
<rect x="485" y="855" width="1" height="4" fill="#00ffff"/>
<rect x="496" y="846" width="1" height="10" fill="#ff4040"/>
<rect x="507" y="834" width="1" height="22" fill="#ff4040"/>
<rect x="518" y="835" width="1" height="21" fill="#ff4040"/>
<rect x="529" y="846" width="1" height="10" fill="#ff4040"/>
<rect x="540" y="854" width="1" height="2" fill="#ff4040"/>
<rect x="551" y="855" width="1" height="4" fill="#00ffff"/>
<rect x="562" y="854" width="1" height="2" fill="#ff4040"/>
<rect x="573" y="852" width="1" height="4" fill="#ff4040"/>
<rect x="584" y="855" width="1" height="3" fill="#00ffff"/>
<rect x="595" y="855" width="1" height="14" fill="#00ffff"/>
<rect x="606" y="855" width="1" height="8" fill="#00ffff"/>
<rect x="617" y="855" width="1" height="8" fill="#00ffff"/>
<rect x="628" y="855" width="1" height="12" fill="#00ffff"/>
<rect x="639" y="855" width="1" height="11" fill="#00ffff"/>
<rect x="650" y="855" width="1" height="11" fill="#00ffff"/>
<rect x="661" y="854" width="1" height="2" fill="#ff4040"/>
<rect x="672" y="850" width="1" height="6" fill="#ff4040"/>
<rect x="683" y="837" width="1" height="19" fill="#ff4040"/>
<rect x="694" y="818" width="1" height="38" fill="#ff4040"/>
<rect x="705" y="816" width="1" height="40" fill="#ff4040"/>
<rect x="716" y="807" width="1" height="49" fill="#ff4040"/>
<rect x="727" y="805" width="1" height="51" fill="#ff4040"/>
<rect x="738" y="813" width="1" height="43" fill="#ff4040"/>
<rect x="749" y="821" width="1" height="35" fill="#ff4040"/>
<rect x="760" y="826" width="1" height="30" fill="#ff4040"/>
<rect x="771" y="845" width="1" height="11" fill="#ff4040"/>
<rect x="782" y="854" width="1" height="2" fill="#ff4040"/>
<rect x="793" y="855" width="1" height="4" fill="#00ffff"/>
<rect x="804" y="855" width="1" height="6" fill="#00ffff"/>
<rect x="815" y="855" width="1" height="22" fill="#00ffff"/>
<rect x="826" y="855" width="1" height="21" fill="#00ffff"/>
<rect x="837" y="855" width="1" height="3" fill="#00ffff"/>
<rect x="848" y="841" width="1" height="15" fill="#ff4040"/>
<rect x="859" y="828" width="1" height="28" fill="#ff4040"/>
<rect x="870" y="822" width="1" height="34" fill="#ff4040"/>
<rect x="881" y="826" width="1" height="30" fill="#ff4040"/>
<rect x="892" y="829" width="1" height="27" fill="#ff4040"/>
<rect x="903" y="819" width="1" height="37" fill="#ff4040"/>
<rect x="914" y="819" width="1" height="37" fill="#ff4040"/>
<rect x="925" y="823" width="1" height="33" fill="#ff4040"/>
<rect x="936" y="822" width="1" height="34" fill="#ff4040"/>
<rect x="947" y="833" width="1" height="23" fill="#ff4040"/>
<rect x="958" y="840" width="1" height="16" fill="#ff4040"/>
<rect x="969" y="845" width="1" height="11" fill="#ff4040"/>
<rect x="980" y="852" width="1" height="4" fill="#ff4040"/>
<rect x="991" y="853" width="1" height="3" fill="#ff4040"/>
<rect x="1002" y="855" width="1" height="6" fill="#00ffff"/>
<rect x="1013" y="855" width="1" height="13" fill="#00ffff"/>
<rect x="1024" y="855" width="1" height="10" fill="#00ffff"/>
<rect x="1035" y="855" width="1" height="2" fill="#00ffff"/>
<rect x="1046" y="851" width="1" height="5" fill="#ff4040"/>
<rect x="1057" y="849" width="1" height="7" fill="#ff4040"/>
<rect x="1068" y="841" width="1" height="15" fill="#ff4040"/>
<rect x="1079" y="836" width="1" height="20" fill="#ff4040"/>
<rect x="1090" y="842" width="1" height="14" fill="#ff4040"/>
<rect x="1101" y="844" width="1" height="12" fill="#ff4040"/>
<rect x="1112" y="847" width="1" height="9" fill="#ff4040"/>
<rect x="1123" y="847" width="1" height="9" fill="#ff4040"/>
<rect x="1134" y="849" width="1" height="7" fill="#ff4040"/>
<rect x="1145" y="852" width="1" height="4" fill="#ff4040"/>
<rect x="1156" y="848" width="1" height="8" fill="#ff4040"/>
<rect x="1167" y="851" width="1" height="5" fill="#ff4040"/>
<rect x="1178" y="855" width="1" height="2" fill="#00ffff"/>
<rect x="1189" y="855" width="1" height="14" fill="#00ffff"/>
<rect x="1200" y="855" width="1" height="44" fill="#00ffff"/>
<rect x="1211" y="855" width="1" height="69" fill="#00ffff"/>
<rect x="1222" y="855" width="1" height="78" fill="#00ffff"/>
<rect x="1233" y="855" width="1" height="74" fill="#00ffff"/>
<rect x="1244" y="855" width="1" height="74" fill="#00ffff"/>
<rect x="1255" y="855" width="1" height="81" fill="#00ffff"/>
<rect x="1266" y="855" width="1" height="86" fill="#00ffff"/>
<rect x="1277" y="855" width="1" height="82" fill="#00ffff"/>
<rect x="1288" y="855" width="1" height="78" fill="#00ffff"/>
<rect x="1299" y="855" width="1" height="66" fill="#00ffff"/>
<rect x="1310" y="855" width="1" height="56" fill="#00ffff"/>
<rect x="1321" y="855" width="1" height="44" fill="#00ffff"/>
<rect x="1332" y="855" width="1" height="34" fill="#00ffff"/>
<rect x="1343" y="855" width="1" height="21" fill="#00ffff"/>
<rect x="1354" y="855" width="1" height="9" fill="#00ffff"/>
<rect x="1365" y="855" width="1" height="18" fill="#00ffff"/>
<rect x="1376" y="855" width="1" height="14" fill="#00ffff"/>
<rect x="1387" y="855" width="1" height="14" fill="#00ffff"/>
<rect x="1398" y="855" width="1" height="10" fill="#00ffff"/>
<rect x="1409" y="855" width="1" height="4" fill="#00ffff"/>
<rect x="1420" y="830" width="1" height="26" fill="#ff4040"/>
<rect x="1431" y="820" width="1" height="36" fill="#ff4040"/>
<rect x="1442" y="798" width="1" height="58" fill="#ff4040"/>
<rect x="1453" y="776" width="1" height="80" fill="#ff4040"/>
<rect x="1464" y="760" width="1" height="96" fill="#ff4040"/>
<rect x="1475" y="748" width="1" height="108" fill="#ff4040"/>
<rect x="1486" y="747" width="1" height="109" fill="#ff4040"/>
<rect x="1497" y="752" width="1" height="104" fill="#ff4040"/>
<rect x="1508" y="760" width="1" height="96" fill="#ff4040"/>
<rect x="1519" y="780" width="1" height="76" fill="#ff4040"/>
<rect x="1530" y="792" width="1" height="64" fill="#ff4040"/>
<rect x="1541" y="806" width="1" height="50" fill="#ff4040"/>
<g shape-rendering="auto">
<polyline points="67.5,561.5 78.5,556.9 89.5,551.8 100.5,546.4 111.5,542.6 122.5,537.5 133.5,531.6 144.5,526.5 155.5,521.4 166.5,516.4 177.5,510.5 188.5,504.9 199.5,500.3 210.5,495.3 221.5,490.2 232.5,485.5 243.5,481.8 254.5,475.9 265.5,471.6 276.5,466.6 287.5,461.5 298.5,457.6 309.5,454.4 320.5,450.5 331.5,446.3 342.5,443.8 353.5,440.1 364.5,437.9 375.5,436.2 386.5,434.6 397.5,432.9 408.5,431.7 419.5,429.5 430.5,427.8 441.5,426.1 452.5,424.9 463.5,423.2 474.5,421.9 485.5,419.7 496.5,416.8 507.5,414.3 518.5,411.8 529.5,409.7 540.5,408.4 551.5,405.9 562.5,404.2 573.5,402.1 584.5,400.5 595.5,399.1 606.5,396.6 617.5,394.9 628.5,393.2 639.5,392.3 650.5,389.8 661.5,387.6 672.5,386.0 683.5,384.7 694.5,381.8 705.5,379.3 716.5,376.8 727.5,374.9 738.5,373.4 749.5,372.0 760.5,370.8 771.5,370.0 782.5,369.5 793.5,369.2 804.5,369.0 815.5,369.8 826.5,370.3 837.5,370.3 848.5,368.3 859.5,367.0 870.5,365.3 881.5,363.9 892.5,362.7 903.5,361.1 914.5,359.7 925.5,358.5 936.5,357.7 947.5,357.4 958.5,355.4 969.5,353.3 980.5,352.0 991.5,350.8 1002.5,349.4 1013.5,348.1 1024.5,345.2 1035.5,340.7 1046.5,335.9 1057.5,330.9 1068.5,325.8 1079.5,320.7 1090.5,316.9 1101.5,312.8 1112.5,308.6 1123.5,305.0 1134.5,300.8 1145.5,296.8 1156.5,292.5 1167.5,289.5 1178.5,285.3 1189.5,281.6 1200.5,278.5 1211.5,276.8 1222.5,273.5 1233.5,270.9 1244.5,268.4 1255.5,266.4 1266.5,265.0 1277.5,263.8 1288.5,262.5 1299.5,259.4 1310.5,257.4 1321.5,256.2 1332.5,254.5 1343.5,253.5 1354.5,252.7 1365.5,252.7 1376.5,252.7 1387.5,253.4 1398.5,252.6 1409.5,252.4 1420.5,250.5 1431.5,248.6 1442.5,244.8 1453.5,241.0 1464.5,236.3 1475.5,231.6 1486.5,227.3 1497.5,223.5 1508.5,219.7 1519.5,216.4 1530.5,213.6 1541.5,210.5" fill="none" stroke="#6464ff" stroke-width="1"/>
<polyline points="67.5,515.5 78.5,512.2 89.5,509.1 100.5,506.3 111.5,503.4 122.5,500.7 133.5,495.8 144.5,491.9 155.5,485.1 166.5,479.2 177.5,473.3 188.5,469.1 199.5,464.4 210.5,459.5 221.5,456.1 232.5,452.2 243.5,448.8 254.5,443.8 265.5,439.0 276.5,432.8 287.5,427.4 298.5,423.5 309.5,419.3 320.5,413.4 331.5,407.7 342.5,403.5 353.5,398.4 364.5,396.4 375.5,394.0 386.5,392.3 397.5,391.5 408.5,390.3 419.5,388.1 430.5,385.3 441.5,383.1 452.5,380.5 463.5,378.5 474.5,377.1 485.5,375.1 496.5,372.9 507.5,370.4 518.5,368.7 529.5,369.9 540.5,369.9 551.5,369.9 562.5,369.9 573.5,369.9 584.5,372.1 595.5,373.4 606.5,374.6 617.5,377.1 628.5,379.7 639.5,381.3 650.5,382.2 661.5,383.0 672.5,384.2 683.5,385.0 694.5,385.5 705.5,386.0 716.5,386.4 727.5,386.4 738.5,386.4 749.5,386.4 760.5,386.4 771.5,388.4 782.5,388.4 793.5,388.4 804.5,387.6 815.5,386.4 826.5,383.0 837.5,378.8 848.5,374.2 859.5,369.5 870.5,365.3 881.5,361.9 892.5,358.5 903.5,354.3 914.5,350.1 925.5,346.7 936.5,343.3 947.5,341.0 958.5,336.4 969.5,332.2 980.5,328.3 991.5,324.1 1002.5,321.2 1013.5,317.4 1024.5,312.6 1035.5,306.7 1046.5,301.3 1057.5,294.9 1068.5,288.7 1079.5,281.9 1090.5,276.0 1101.5,269.7 1112.5,263.8 1123.5,258.8 1134.5,254.5 1145.5,250.2 1156.5,246.1 1167.5,240.9 1178.5,236.0 1189.5,232.1 1200.5,230.9 1211.5,227.9 1222.5,225.3 1233.5,222.8 1244.5,221.1 1255.5,218.9 1266.5,217.2 1277.5,217.4 1288.5,218.6 1299.5,219.4 1310.5,221.1 1321.5,221.4 1332.5,222.0 1343.5,223.1 1354.5,223.6 1365.5,227.0 1376.5,229.0 1387.5,230.6 1398.5,232.5 1409.5,233.3 1420.5,232.5 1431.5,232.5 1442.5,231.6 1453.5,226.8 1464.5,224.0 1475.5,221.2 1486.5,218.8 1497.5,216.4 1508.5,214.5 1519.5,212.6 1530.5,210.9 1541.5,209.6" fill="none" stroke="#00ff00" stroke-width="1"/>
<polyline points="67.5,503.2 78.5,500.7 89.5,494.4 100.5,488.5 111.5,481.8 122.5,475.0 133.5,467.1 144.5,459.0 155.5,450.5 166.5,438.7 177.5,429.4 188.5,421.0 199.5,413.4 210.5,405.2 221.5,398.4 232.5,391.3 243.5,383.2 254.5,374.8 265.5,366.3 276.5,358.7 287.5,352.0 298.5,346.9 309.5,343.0 320.5,337.9 331.5,333.4 342.5,331.7 353.5,331.4 364.5,333.1 375.5,338.6 386.5,344.2 397.5,351.0 408.5,358.2 419.5,362.0 430.5,365.0 441.5,367.9 452.5,370.4 463.5,373.8 474.5,380.2 485.5,383.1 496.5,385.9 507.5,388.1 518.5,390.3 529.5,394.4 540.5,400.8 551.5,405.5 562.5,407.5 573.5,408.1 584.5,409.2 595.5,409.2 606.5,405.0 617.5,402.5 628.5,399.9 639.5,399.6 650.5,400.4 661.5,398.2 672.5,399.0 683.5,394.8 694.5,390.6 705.5,388.1 716.5,385.0 727.5,383.0 738.5,381.0 749.5,377.1 760.5,372.9 771.5,370.7 782.5,369.5 793.5,367.8 804.5,364.4 815.5,361.9 826.5,361.6 837.5,355.1 848.5,347.5 859.5,340.8 870.5,333.7 881.5,327.3 892.5,321.4 903.5,314.6 914.5,309.6 925.5,304.5 936.5,301.1 947.5,297.9 958.5,293.2 969.5,289.0 980.5,285.3 991.5,277.7 1002.5,271.8 1013.5,266.7 1024.5,261.1 1035.5,250.7 1046.5,241.0 1057.5,236.0 1068.5,229.6 1079.5,224.6 1090.5,220.2 1101.5,214.5 1112.5,208.9 1123.5,204.7 1134.5,200.8 1145.5,195.9 1156.5,191.2 1167.5,185.3 1178.5,180.2 1189.5,176.5 1200.5,177.3 1211.5,179.0 1222.5,180.2 1233.5,180.5 1244.5,181.6 1255.5,187.8 1288.5,207.6 1299.5,215.2 1310.5,222.8 1321.5,230.4 1332.5,237.1 1343.5,243.1 1354.5,248.1 1365.5,258.3 1376.5,267.5 1387.5,276.0 1398.5,284.4 1409.5,290.7 1420.5,288.7 1431.5,287.0 1442.5,281.1 1453.5,275.1 1464.5,267.5 1475.5,255.3 1486.5,242.0 1497.5,229.7 1508.5,218.3 1519.5,207.9 1530.5,198.9 1541.5,190.2" fill="none" stroke="#ff00ff" stroke-width="1"/>
<polyline points="67.5,484.3 78.5,476.7 89.5,464.9 100.5,453.9 111.5,443.8 122.5,434.5 133.5,421.8 144.5,411.7 155.5,400.9 166.5,389.1 177.5,376.4 188.5,367.2 199.5,362.1 210.5,357.0 221.5,351.1 232.5,347.7 243.5,344.0 254.5,337.6 265.5,333.4 276.5,329.2 287.5,327.5 298.5,327.5 309.5,324.9 320.5,317.7 331.5,314.8 342.5,315.7 353.5,317.7 364.5,328.3 375.5,343.4 386.5,360.3 397.5,376.3 408.5,389.8 419.5,402.5 430.5,413.5 441.5,421.4 452.5,424.4 463.5,430.3 474.5,431.5 485.5,426.1 496.5,413.5 507.5,401.6 518.5,391.2 529.5,389.5 540.5,389.5 551.5,389.5 562.5,388.1 573.5,386.4 584.5,386.1 595.5,392.3 606.5,395.7 617.5,403.3 628.5,408.4 639.5,410.9 650.5,410.5 661.5,408.7 672.5,410.0 683.5,405.5 694.5,394.8 705.5,383.9 716.5,374.2 727.5,363.6 738.5,354.3 749.5,345.0 760.5,334.4 771.5,333.7 782.5,329.3 793.5,330.3 804.5,335.4 815.5,340.5 826.5,347.5 837.5,347.5 848.5,341.1 859.5,335.7 870.5,329.0 881.5,320.5 892.5,311.2 903.5,299.4 914.5,287.6 925.5,269.8 936.5,255.4 947.5,248.9 958.5,246.1 969.5,243.5 980.5,242.4 991.5,235.9 1002.5,234.6 1013.5,235.9 1024.5,235.1 1035.5,230.9 1046.5,228.7 1057.5,221.6 1068.5,213.1 1079.5,205.5 1090.5,198.8 1101.5,192.4 1112.5,181.9 1123.5,171.8 1134.5,164.2 1145.5,159.1 1156.5,152.3 1167.5,147.6 1178.5,145.6 1189.5,147.8 1200.5,155.7 1211.5,167.5 1222.5,178.5 1233.5,188.7 1244.5,201.3 1255.5,214.4 1266.5,235.5 1277.5,251.5 1288.5,270.1 1299.5,281.9 1310.5,286.5 1321.5,288.7 1332.5,291.2 1343.5,295.7 1354.5,295.7 1365.5,299.6 1376.5,297.9 1387.5,298.8 1398.5,298.3 1409.5,297.9 1420.5,287.8 1431.5,283.6 1442.5,272.6 1449.6,261.9 1453.5,257.4 1464.5,239.2 1475.5,214.5 1486.5,192.4 1497.5,166.8 1508.5,142.7 1519.5,123.3 1530.5,111.8 1541.5,97.6" fill="none" stroke="#ffff00" stroke-width="1"/>
<polyline points="67.5,460.7 78.5,449.7 89.5,437.9 100.5,426.9 111.5,418.4 122.5,409.2 133.5,391.6 144.5,383.2 155.5,375.6 166.5,361.3 177.5,345.5 188.5,343.0 199.5,340.1 210.5,340.1 221.5,346.1 232.5,349.4 243.5,346.9 254.5,337.6 265.5,328.3 276.5,313.1 287.5,305.2 298.5,307.7 309.5,313.6 320.5,309.2 331.5,315.7 342.5,326.1 353.5,327.5 364.5,341.8 375.5,373.8 386.5,404.2 397.5,425.3 408.5,451.4 419.5,456.5 430.5,451.4 441.5,438.8 452.5,423.6 463.5,409.2 474.5,405.9 485.5,397.4 496.5,387.3 507.5,379.7 518.5,373.8 529.5,372.1 540.5,379.7 551.5,389.8 562.5,397.8 573.5,400.3 584.5,401.1 595.5,406.4 606.5,402.5 617.5,409.2 628.5,416.8 639.5,419.8 650.5,415.9 661.5,413.4 672.5,409.7 683.5,395.7 694.5,371.2 705.5,354.3 716.5,336.6 727.5,319.7 738.5,314.3 749.5,318.5 760.5,315.1 771.5,330.7 782.5,339.9 793.5,345.9 804.5,350.6 815.5,366.6 826.5,364.4 837.5,354.3 848.5,336.6 859.5,319.7 870.5,291.0 881.5,274.8 892.5,268.1 903.5,257.9 914.5,252.0 925.5,249.2 936.5,235.1 947.5,230.4 958.5,234.6 969.5,234.6 980.5,234.6 991.5,235.9 1002.5,237.1 1013.5,239.3 1024.5,237.6 1035.5,226.6 1046.5,219.9 1057.5,207.2 1068.5,187.8 1079.5,173.5 1090.5,169.2 1101.5,163.0 1112.5,158.3 1123.5,156.6 1134.5,154.9 1145.5,149.8 1156.5,142.2 1167.5,136.3 1178.5,134.3 1189.5,140.5 1200.5,160.8 1211.5,189.5 1222.5,219.4 1233.5,238.8 1244.5,258.3 1255.5,267.5 1266.5,276.0 1277.5,282.7 1288.5,300.8 1299.5,306.4 1310.5,307.2 1321.5,301.3 1332.5,298.4 1343.5,291.2 1354.5,284.1 1365.5,291.2 1376.5,293.2 1387.5,300.5 1398.5,306.4 1409.5,312.3 1420.5,287.8 1431.5,272.6 1442.5,240.1 1453.5,201.3 1459.1,185.8 1464.5,165.9 1470.0,152.6 1475.5,140.3 1481.0,124.2 1486.5,109.4 1492.0,99.0 1497.5,90.0 1508.5,80.5 1519.5,80.5 1530.5,82.9 1541.5,85.5" fill="none" stroke="#ffffff" stroke-width="1"/>
<polyline points="67.5,684.8 78.5,682.9 89.5,681.6 100.5,679.7 111.5,677.6 122.5,675.5 133.5,670.7 144.5,668.3 155.5,663.5 166.5,660.5 177.5,662.4 188.5,662.4 199.5,666.4 210.5,667.5 221.5,666.9 232.5,665.6 243.5,667.7 254.5,665.9 265.5,666.7 276.5,666.7 287.5,661.6 298.5,659.2 309.5,656.0 320.5,654.4 331.5,652.3 342.5,649.9 353.5,648.3 364.5,647.5 375.5,646.4 386.5,644.3 397.5,643.5 408.5,644.3 419.5,644.8 430.5,645.6 441.5,649.3 452.5,656.3 463.5,656.8 474.5,661.6 485.5,664.5 496.5,669.3 507.5,671.5 518.5,672.0 529.5,670.4 540.5,668.5 551.5,667.5 562.5,662.4 573.5,664.5 584.5,660.3 595.5,659.5 606.5,657.6 617.5,657.3 628.5,655.5 639.5,656.5 650.5,660.0 661.5,662.4 672.5,663.5 683.5,662.7 694.5,663.2 705.5,663.5 716.5,662.4 727.5,661.9 738.5,662.4 749.5,661.9 760.5,660.0 771.5,659.2 782.5,659.2 793.5,659.5 804.5,660.0 815.5,660.8 826.5,661.3 837.5,659.5 848.5,656.5 859.5,656.5 870.5,655.2 881.5,656.3 892.5,656.5 903.5,657.3 914.5,654.4 925.5,654.4 936.5,653.9 947.5,653.6 958.5,655.5 969.5,655.5 980.5,656.5 991.5,653.9 1002.5,652.0 1013.5,650.4 1024.5,652.8 1035.5,652.5 1046.5,652.5 1057.5,648.8 1068.5,647.5 1079.5,646.4 1090.5,645.3 1101.5,647.5 1112.5,646.9 1123.5,649.3 1134.5,651.5 1145.5,653.9 1156.5,655.2 1167.5,661.9 1178.5,662.9 1189.5,663.2 1200.5,660.3 1211.5,662.4 1222.5,659.2 1233.5,658.4 1244.5,653.6 1255.5,649.6 1266.5,648.8 1277.5,648.8 1288.5,649.3 1299.5,649.6 1310.5,653.6 1321.5,651.5 1332.5,656.0 1343.5,658.4 1354.5,663.2 1365.5,667.5 1376.5,668.3 1387.5,669.1 1398.5,668.3 1409.5,667.2 1420.5,661.6 1431.5,658.4 1442.5,654.4 1453.5,653.1 1464.5,650.4 1475.5,647.2 1486.5,646.4 1497.5,646.4 1508.5,652.5 1519.5,651.5 1530.5,656.5 1541.5,664.5" fill="none" stroke="#ffff00" stroke-width="1"/>
<polyline points="67.5,686.7 78.5,681.6 89.5,677.6 100.5,672.8 111.5,667.5 122.5,665.6 133.5,658.4 144.5,658.4 155.5,654.4 166.5,652.3 177.5,660.0 188.5,667.7 199.5,673.6 210.5,680.5 221.5,680.5 232.5,672.8 243.5,668.8 254.5,657.6 265.5,651.2 276.5,651.2 287.5,650.4 298.5,650.4 309.5,656.5 320.5,658.7 331.5,654.4 342.5,649.6 353.5,646.4 364.5,639.2 375.5,634.4 386.5,633.3 397.5,637.6 408.5,641.6 419.5,648.8 430.5,656.0 441.5,664.8 452.5,674.7 463.5,669.3 474.5,673.3 485.5,673.6 496.5,674.7 507.5,668.3 518.5,673.6 529.5,667.5 540.5,663.2 551.5,659.2 562.5,656.8 573.5,654.7 584.5,653.3 595.5,656.0 606.5,655.2 617.5,657.3 628.5,655.5 639.5,660.3 650.5,665.6 661.5,669.3 672.5,668.5 683.5,669.3 694.5,666.4 705.5,661.6 716.5,654.4 727.5,654.4 738.5,655.2 749.5,656.0 760.5,659.5 771.5,663.5 782.5,664.5 793.5,662.4 804.5,664.5 815.5,661.6 826.5,660.8 837.5,654.4 848.5,650.1 859.5,648.5 870.5,650.4 881.5,652.8 892.5,659.2 903.5,664.5 914.5,661.3 925.5,659.2 936.5,655.5 947.5,648.8 958.5,646.1 969.5,650.4 980.5,654.4 991.5,653.6 1002.5,656.5 1013.5,655.5 1024.5,654.4 1035.5,651.5 1046.5,651.2 1057.5,640.5 1068.5,639.5 1079.5,638.4 1090.5,640.5 1101.5,643.2 1112.5,653.6 1123.5,658.7 1134.5,664.5 1145.5,667.5 1156.5,667.7 1167.5,669.6 1178.5,666.4 1189.5,663.2 1200.5,652.5 1211.5,657.6 1222.5,650.4 1233.5,650.4 1244.5,644.3 1255.5,646.9 1266.5,640.3 1277.5,647.2 1288.5,648.8 1299.5,653.9 1310.5,658.4 1321.5,661.3 1332.5,666.4 1343.5,668.8 1354.5,672.5 1365.5,676.5 1376.5,676.5 1387.5,673.6 1398.5,670.4 1409.5,662.4 1420.5,646.4 1431.5,640.3 1442.5,636.5 1453.5,636.5 1464.5,638.4 1475.5,649.6 1486.5,652.8 1497.5,656.0 1508.5,667.7 1519.5,664.5 1530.5,664.5 1541.5,676.5" fill="none" stroke="#ffffff" stroke-width="1"/>
<polyline points="67.5,819.9 78.5,816.1 89.5,811.5 100.5,806.8 111.5,802.6 122.5,798.8 133.5,795.7 144.5,790.8 155.5,787.3 166.5,782.0 177.5,777.4 188.5,774.0 199.5,771.1 210.5,770.0 221.5,770.0 232.5,771.1 243.5,771.5 254.5,771.1 265.5,770.4 276.5,770.4 287.5,769.4 298.5,771.5 309.5,773.6 320.5,774.6 331.5,776.1 342.5,779.9 353.5,785.2 364.5,791.5 375.5,799.9 386.5,811.5 397.5,825.3 408.5,836.8 419.5,846.3 430.5,854.1 441.5,859.6 452.5,863.2 463.5,865.3 474.5,868.4 485.5,868.4 496.5,867.4 507.5,864.2 518.5,861.5 529.5,860.6 540.5,860.4 551.5,860.6 562.5,860.4 573.5,859.6 584.5,860.6 595.5,861.7 606.5,862.5 617.5,863.6 628.5,864.8 639.5,865.7 650.5,867.4 661.5,867.4 672.5,866.3 683.5,863.8 694.5,860.0 705.5,854.7 716.5,847.4 727.5,840.9 738.5,836.3 749.5,831.5 760.5,827.3 771.5,826.2 782.5,826.2 793.5,826.6 804.5,827.7 815.5,829.8 826.5,832.5 837.5,832.5 848.5,830.4 859.5,827.3 870.5,822.4 881.5,819.3 892.5,815.3 903.5,810.4 914.5,806.2 925.5,802.4 936.5,797.8 947.5,795.3 958.5,793.6 969.5,791.9 980.5,791.5 991.5,790.8 1002.5,791.5 1013.5,792.9 1024.5,794.2 1035.5,794.2 1046.5,793.2 1057.5,792.5 1068.5,790.4 1079.5,788.3 1090.5,786.2 1101.5,784.1 1112.5,783.1 1123.5,782.0 1134.5,781.4 1145.5,781.4 1156.5,780.5 1167.5,779.5 1178.5,779.5 1189.5,781.4 1200.5,786.6 1211.5,795.7 1222.5,805.2 1233.5,814.0 1244.5,823.1 1255.5,832.9 1266.5,843.5 1277.5,853.6 1288.5,863.5 1299.5,871.5 1310.5,878.4 1321.5,883.7 1332.5,887.7 1343.5,890.4 1354.5,891.5 1365.5,893.2 1376.5,895.1 1387.5,896.3 1398.5,897.4 1409.5,898.2 1420.5,895.1 1431.5,890.4 1442.5,883.5 1453.5,873.6 1464.5,860.9 1475.5,846.1 1486.5,833.7 1497.5,820.9 1508.5,809.4 1519.5,800.2 1530.5,791.6 1541.5,784.5" fill="none" stroke="#ffff00" stroke-width="1"/>
<polyline points="67.5,809.8 78.5,806.6 89.5,797.8 100.5,791.9 111.5,788.3 122.5,786.6 133.5,778.8 144.5,772.5 155.5,769.4 166.5,763.1 177.5,759.3 188.5,760.3 199.5,761.4 210.5,765.2 221.5,770.0 232.5,772.5 243.5,773.6 254.5,769.4 265.5,769.4 276.5,766.6 287.5,768.3 298.5,777.8 309.5,781.6 320.5,780.5 331.5,784.1 342.5,794.6 353.5,803.1 364.5,817.8 375.5,834.6 386.5,853.6 397.5,870.5 408.5,883.2 419.5,886.3 430.5,885.3 441.5,883.2 452.5,877.3 463.5,876.2 474.5,876.2 485.5,870.5 496.5,862.1 507.5,853.1 518.5,851.2 529.5,855.2 540.5,859.6 551.5,861.5 562.5,859.6 573.5,857.3 584.5,861.1 595.5,867.4 606.5,865.3 617.5,866.3 628.5,869.5 639.5,871.6 650.5,871.6 661.5,866.9 672.5,863.6 683.5,854.3 694.5,839.4 705.5,832.6 716.5,823.2 727.5,816.7 738.5,814.6 749.5,813.6 760.5,812.5 771.5,820.3 782.5,824.5 793.5,828.3 804.5,830.4 815.5,840.3 826.5,842.4 837.5,833.6 848.5,823.1 859.5,813.6 870.5,805.2 881.5,803.1 892.5,801.4 903.5,792.5 914.5,787.3 925.5,785.2 936.5,781.4 947.5,783.1 958.5,784.5 969.5,786.6 980.5,788.3 991.5,790.0 1002.5,794.0 1013.5,798.4 1024.5,799.5 1035.5,794.6 1046.5,791.5 1057.5,789.8 1068.5,782.6 1079.5,778.4 1090.5,779.5 1101.5,778.4 1112.5,779.5 1123.5,778.4 1134.5,777.4 1145.5,779.5 1156.5,776.1 1167.5,777.2 1178.5,779.9 1189.5,787.3 1200.5,808.3 1211.5,829.4 1222.5,843.7 1233.5,850.4 1244.5,858.8 1255.5,873.6 1266.5,886.2 1277.5,894.6 1288.5,902.4 1299.5,903.1 1310.5,906.2 1321.5,905.2 1332.5,904.1 1343.5,899.9 1354.5,895.7 1365.5,902.4 1376.5,901.6 1387.5,903.5 1398.5,902.4 1409.5,899.5 1420.5,880.9 1431.5,872.5 1442.5,853.6 1453.5,832.2 1464.5,811.5 1475.5,793.3 1486.5,779.5 1497.5,768.8 1508.5,760.6 1519.5,761.5 1530.5,758.1 1541.5,759.6" fill="none" stroke="#ffffff" stroke-width="1"/>
</g>
<rect x="0" y="19" width="1657" height="1" fill="#c81410"/>
<rect x="0" y="580" width="1657" height="1" fill="#c81410"/>
<rect x="0" y="729" width="1657" height="1" fill="#c81410"/>
<rect x="0" y="954" width="1658" height="1" fill="#c81410"/>
<rect x="1697" y="954" width="201" height="1" fill="#c81410"/>
<rect x="61" y="19" width="1" height="951" fill="#c81410"/>
<rect x="1657" y="1" width="1" height="954" fill="#c81410"/>
<rect x="0" y="730" width="62" height="1" fill="#c81410"/>
<rect x="0" y="953" width="62" height="1" fill="#c81410"/>
<rect x="0" y="730" width="1" height="224" fill="#c81410"/>
<rect x="60" y="730" width="1" height="224" fill="#c81410"/>
<rect x="1898" y="1" width="2" height="970" fill="#d4cccc"/>
<rect x="1657" y="25" width="241" height="1" fill="#c81410"/>
<rect x="1657" y="30" width="241" height="1" fill="#c81410"/>
<rect x="1657" y="61" width="241" height="1" fill="#c81410"/>
<rect x="1657" y="92" width="241" height="1" fill="#c81410"/>
<rect x="1657" y="193" width="241" height="1" fill="#c81410"/>
<rect x="1657" y="214" width="241" height="1" fill="#c81410"/>
<rect x="1659" y="26" width="59" height="4" fill="#ff4040"/>
<rect x="1718" y="26" width="179" height="4" fill="#00f000"/>
<rect x="1658" y="194" width="239" height="20" fill="#505050"/>
<rect x="0" y="0" width="1900" height="1" fill="#d4d0c8"/>
<rect x="0" y="970" width="1900" height="1" fill="#e0dcd8"/>
<path d="M1657.5 954 V967.5 L1659.5 969.5 H1692.5 L1694.5 967.5 V956.5 L1696.5 954.5 H1697.5" fill="none" stroke="#c81410" shape-rendering="auto"/>
<rect x="1606.5" y="2.5" width="15" height="13" fill="none" stroke="#80c0ff"/>
<rect x="1623.5" y="2.5" width="15" height="13" fill="none" stroke="#80c0ff"/>
<rect x="1640.5" y="2.5" width="15" height="13" fill="none" stroke="#80c0ff"/>
<path d="M1608.5 8.5 L1612.5 4.5 V6.5 H1619.5 V10.5 H1612.5 V12.5 Z" fill="none" stroke="#80c0ff" shape-rendering="auto"/>
<path d="M1636.5 8.5 L1632.5 4.5 V6.5 H1625.5 V10.5 H1632.5 V12.5 Z" fill="none" stroke="#80c0ff" shape-rendering="auto"/>
<path d="M1641 9.5 H1651 M1651.5 3 V15" fill="none" stroke="#80c0ff"/>
<rect x="1653" y="4" width="1" height="1" fill="#80c0ff"/>
<rect x="1653" y="6" width="1" height="1" fill="#80c0ff"/>
<rect x="1653" y="8" width="1" height="1" fill="#80c0ff"/>
<rect x="1653" y="10" width="1" height="1" fill="#80c0ff"/>
<rect x="1881.5" y="2.5" width="15" height="13" fill="none" stroke="#80c0ff"/><rect x="1884.5" y="4.5" width="9" height="8" fill="none" stroke="#80c0ff"/><rect x="1884" y="4" width="10" height="2" fill="#80c0ff"/>
<path d="M1830.5 203.5 l2.2 2.8 l4 -5.3" fill="none" stroke="#ffff00" stroke-width="1.8" shape-rendering="auto"/>
<g shape-rendering="auto" stroke="#e0e0e0" fill="none"><path d="M1486.5 47.5 H1497 M1494 45.3 l3 2.2 l-3 2.2"/><path d="M375.5 499.5 H386 M383 497.3 l3 2.2 l-3 2.2"/></g>
</svg>
<div class="t" style="left:2px;top:3.0px;height:14px;line-height:14px;font-size:12px;color:#fff;font-weight:500;font-family:'Noto Serif CJK SC',serif;">美原油连</div>
<div class="t" style="left:50.5px;top:3.0px;height:14px;line-height:14px;font-size:12px;color:#fff;font-family:'Liberation Serif',serif;transform-origin:0 50%;transform:scaleX(.84);">(CONC)</div>
<div class="t" style="left:86px;top:3.0px;height:14px;line-height:14px;font-size:12px;color:#fff;font-family:'Liberation Serif',serif;transform-origin:0 50%;transform:scale(.9,1.3);">&lt;</div>
<div class="t" style="left:92px;top:3.0px;height:14px;line-height:14px;font-size:12px;color:#fff;font-weight:500;font-family:'Noto Serif CJK SC',serif;">日线</div>
<div class="t" style="left:116.5px;top:3.0px;height:14px;line-height:14px;font-size:12px;color:#fff;font-family:'Liberation Serif',serif;transform-origin:0 50%;transform:scale(.9,1.3);">&gt;</div>
<div class="t" style="left:1493px;top:3.0px;height:14px;line-height:14px;font-size:12px;color:#80c0ff;font-weight:500;"><u>商品叠加</u></div>
<div class="t" style="left:1561.5px;top:3.0px;height:14px;line-height:14px;font-size:12px;color:#80c0ff;font-weight:500;"><u>周期</u></div>
<div class="t" style="left:62.900000000000006px;top:21.5px;height:16px;line-height:16px;font-size:12px;letter-spacing:0.000px;color:#c8c8c8">K</div>
<div class="t" style="left:78.8px;top:21.5px;height:16px;line-height:16px;font-size:12px;letter-spacing:0.239px;color:#fff">MA5:73.85</div>
<div class="t" style="left:143.0px;top:21.5px;height:16px;line-height:16px;font-size:12px;letter-spacing:0.258px;color:#ffff00">MA10:73.38</div>
<div class="t" style="left:214.0px;top:21.5px;height:16px;line-height:16px;font-size:12px;letter-spacing:0.198px;color:#ff00ff">MA20:69.84</div>
<div class="t" style="left:284.7px;top:21.5px;height:16px;line-height:16px;font-size:12px;letter-spacing:0.258px;color:#00ff00">MA40:69.12</div>
<div class="t" style="left:355.9px;top:21.5px;height:16px;line-height:16px;font-size:12px;letter-spacing:0.238px;color:#6464ff">MA60:69.06</div>
<div class="t" style="left:62.900000000000006px;top:582.5px;height:16px;line-height:16px;font-size:12px;letter-spacing:0.316px;color:#c8c8c8">VOL(5,10)</div>
<div class="t" style="left:126.10000000000001px;top:582.5px;height:16px;line-height:16px;font-size:12px;letter-spacing:0.051px;color:#c8c8c8">VOLUME:82117.0000</div>
<div class="t" style="left:247.7px;top:582.5px;height:16px;line-height:16px;font-size:12px;letter-spacing:0.211px;color:#fff">MAVOL1:474463.8000</div>
<div class="t" style="left:376.9px;top:582.5px;height:16px;line-height:16px;font-size:12px;letter-spacing:0.205px;color:#ffff00">MAVOL2:585286.1000</div>
<div class="t" style="left:63.0px;top:731.5px;height:16px;line-height:16px;font-size:12px;letter-spacing:0.133px;color:#c8c8c8">MACD(12,26,9)</div>
<div class="t" style="left:153.0px;top:731.5px;height:16px;line-height:16px;font-size:12px;letter-spacing:-0.018px;color:#fff">DIFF:1.8240</div>
<div class="t" style="left:224.0px;top:731.5px;height:16px;line-height:16px;font-size:12px;letter-spacing:0.108px;color:#ffff00">DEA:1.3436</div>
<div class="t" style="left:294.3px;top:731.5px;height:16px;line-height:16px;font-size:12px;letter-spacing:-0.034px;color:#c8c8c8">MACD:0.9608</div>
<div class="t" style="left:-143px;width:200px;text-align:right;top:46.5px;height:16px;line-height:16px;font-size:12px;font-weight:bold;color:#e0e0e0;">75</div>
<div class="t" style="left:-143px;width:200px;text-align:right;top:125.5px;height:16px;line-height:16px;font-size:12px;font-weight:bold;color:#e0e0e0;">72</div>
<div class="t" style="left:-143px;width:200px;text-align:right;top:204.5px;height:16px;line-height:16px;font-size:12px;font-weight:bold;color:#e0e0e0;">69</div>
<div class="t" style="left:-143px;width:200px;text-align:right;top:283.5px;height:16px;line-height:16px;font-size:12px;font-weight:bold;color:#e0e0e0;">66</div>
<div class="t" style="left:-143px;width:200px;text-align:right;top:362.5px;height:16px;line-height:16px;font-size:12px;font-weight:bold;color:#e0e0e0;">63</div>
<div class="t" style="left:-143px;width:200px;text-align:right;top:441.5px;height:16px;line-height:16px;font-size:12px;font-weight:bold;color:#e0e0e0;">60</div>
<div class="t" style="left:-143px;width:200px;text-align:right;top:519.5px;height:16px;line-height:16px;font-size:12px;font-weight:bold;color:#e0e0e0;">57</div>
<div class="t" style="left:-144px;width:200px;text-align:right;top:591.3px;height:16px;line-height:16px;font-size:12px;font-weight:bold;color:#e0e0e0;">120<span class="cj" style="font-weight:600">万</span></div>
<div class="t" style="left:-144px;width:200px;text-align:right;top:633.3px;height:16px;line-height:16px;font-size:12px;font-weight:bold;color:#e0e0e0;">80<span class="cj" style="font-weight:600">万</span></div>
<div class="t" style="left:-144px;width:200px;text-align:right;top:676.3px;height:16px;line-height:16px;font-size:12px;font-weight:bold;color:#e0e0e0;">40<span class="cj" style="font-weight:600">万</span></div>
<div class="t" style="left:-143px;width:200px;text-align:right;top:784.5px;height:16px;line-height:16px;font-size:12px;font-weight:bold;color:#e0e0e0;">1.2</div>
<div class="t" style="left:-143px;width:200px;text-align:right;top:847.5px;height:16px;line-height:16px;font-size:12px;font-weight:bold;color:#e0e0e0;">0</div>
<div class="t" style="left:-143px;width:200px;text-align:right;top:911.5px;height:16px;line-height:16px;font-size:12px;font-weight:bold;color:#e0e0e0;">-1.2</div>
<div class="t" style="left:342px;top:491.5px;height:16px;line-height:16px;font-size:12px;font-weight:bold;color:#e0e0e0;">58.07</div>
<div class="t" style="left:1453px;top:39.5px;height:16px;line-height:16px;font-size:12px;font-weight:bold;color:#e0e0e0;">75.27</div>
<div class="t" style="left:-143.5px;width:200px;text-align:right;top:956.0px;height:14px;line-height:14px;font-size:12px;color:#fff;font-weight:500;">日线</div>
<div class="t" style="left:62.5px;top:954.0px;height:16px;line-height:16px;font-size:11px;color:#e8e8e8;letter-spacing:-.2px;">201801</div>
<div class="t" style="left:299.0px;width:40px;text-align:center;top:954.0px;height:16px;line-height:16px;font-size:11px;color:#e8e8e8;letter-spacing:-.2px;">02</div>
<div class="t" style="left:520.0px;width:40px;text-align:center;top:954.0px;height:16px;line-height:16px;font-size:11px;color:#e8e8e8;letter-spacing:-.2px;">03</div>
<div class="t" style="left:750.0px;width:40px;text-align:center;top:954.0px;height:16px;line-height:16px;font-size:11px;color:#e8e8e8;letter-spacing:-.2px;">04</div>
<div class="t" style="left:981.0px;width:40px;text-align:center;top:954.0px;height:16px;line-height:16px;font-size:11px;color:#e8e8e8;letter-spacing:-.2px;">05</div>
<div class="t" style="left:1234.0px;width:40px;text-align:center;top:954.0px;height:16px;line-height:16px;font-size:11px;color:#e8e8e8;letter-spacing:-.2px;">06</div>
<div class="t" style="left:1465.0px;width:40px;text-align:center;top:954.0px;height:16px;line-height:16px;font-size:11px;color:#e8e8e8;letter-spacing:-.2px;">07</div>
<div class="t" style="left:1663px;width:120px;text-align:right;top:0.6999999999999993px;height:24px;line-height:24px;font-size:20px;color:#ffff00;font-family:'Noto Serif CJK SC',serif;">美原油连</div>
<div class="t" style="left:1784px;top:0.1999999999999993px;height:24px;line-height:24px;font-size:20px;color:#ffff00;font-family:'Liberation Serif',serif;transform:scaleX(.82);transform-origin:0 50%;">(CONC)</div>
<div class="t" style="left:1663px;top:38.5px;height:16px;line-height:16px;font-size:14px;color:#fff;font-family:'Liberation Serif','Noto Serif CJK SC',serif;">卖出</div>
<div class="t" style="left:1717.5px;top:38.0px;height:16px;line-height:16px;font-size:22px;font-weight:bold;letter-spacing:-.3px;color:#00f000">73.63</div>
<div class="t" style="left:1785px;top:38.0px;height:16px;line-height:16px;font-size:22px;font-weight:bold;letter-spacing:-.3px;color:#ffff00">36</div>
<div class="t" style="left:1663px;top:69.0px;height:16px;line-height:16px;font-size:14px;color:#fff;font-family:'Liberation Serif','Noto Serif CJK SC',serif;">买入</div>
<div class="t" style="left:1717.5px;top:68.7px;height:16px;line-height:16px;font-size:22px;font-weight:bold;letter-spacing:-.3px;color:#00f000">73.62</div>
<div class="t" style="left:1785px;top:68.7px;height:16px;line-height:16px;font-size:22px;font-weight:bold;letter-spacing:-.3px;color:#ffff00">12</div>
<div class="t" style="left:1662.5px;top:95.8px;height:16px;line-height:16px;font-size:14px;color:#fff;font-family:'Liberation Serif','Noto Serif CJK SC',serif;">最新</div>
<div class="t" style="left:1570.5px;width:200px;text-align:right;top:95.0px;height:16px;line-height:16px;font-size:14px;font-weight:bold;color:#00f000;">73.62</div>
<div class="t" style="left:1784.5px;top:95.8px;height:16px;line-height:16px;font-size:14px;color:#fff;font-family:'Liberation Serif','Noto Serif CJK SC',serif;">均价</div>
<div class="t" style="left:1693px;width:200px;text-align:right;top:95.0px;height:16px;line-height:16px;font-size:14px;font-weight:bold;color:#ff4040;">73.94</div>
<div class="t" style="left:1662.5px;top:115.8px;height:16px;line-height:16px;font-size:14px;color:#fff;font-family:'Liberation Serif','Noto Serif CJK SC',serif;">涨跌</div>
<div class="t" style="left:1570.5px;width:200px;text-align:right;top:115.0px;height:16px;line-height:16px;font-size:14px;font-weight:bold;color:#00f000;">-0.18</div>
<div class="t" style="left:1784.5px;top:115.8px;height:16px;line-height:16px;font-size:14px;color:#fff;font-family:'Liberation Serif','Noto Serif CJK SC',serif;">昨结</div>
<div class="t" style="left:1693px;width:200px;text-align:right;top:115.0px;height:16px;line-height:16px;font-size:14px;font-weight:bold;color:#fff;">73.80</div>
<div class="t" style="left:1662.5px;top:135.8px;height:16px;line-height:16px;font-size:14px;color:#fff;font-family:'Liberation Serif','Noto Serif CJK SC',serif;">幅度</div>
<div class="t" style="left:1570.5px;width:200px;text-align:right;top:135.0px;height:16px;line-height:16px;font-size:14px;font-weight:bold;color:#00f000;">-0.24%</div>
<div class="t" style="left:1784.5px;top:135.8px;height:16px;line-height:16px;font-size:14px;color:#fff;font-family:'Liberation Serif','Noto Serif CJK SC',serif;">开盘</div>
<div class="t" style="left:1693px;width:200px;text-align:right;top:135.0px;height:16px;line-height:16px;font-size:14px;font-weight:bold;color:#ff4040;">73.87</div>
<div class="t" style="left:1662.5px;top:155.8px;height:16px;line-height:16px;font-size:14px;color:#fff;font-family:'Liberation Serif','Noto Serif CJK SC',serif;">总手</div>
<div class="t" style="left:1570.5px;width:200px;text-align:right;top:155.0px;height:16px;line-height:16px;font-size:14px;font-weight:bold;color:#ffff00;">82118</div>
<div class="t" style="left:1784.5px;top:155.8px;height:16px;line-height:16px;font-size:14px;color:#fff;font-family:'Liberation Serif','Noto Serif CJK SC',serif;">最高</div>
<div class="t" style="left:1693px;width:200px;text-align:right;top:155.0px;height:16px;line-height:16px;font-size:14px;font-weight:bold;color:#ff4040;">74.28</div>
<div class="t" style="left:1662.5px;top:175.8px;height:16px;line-height:16px;font-size:14px;color:#fff;font-family:'Liberation Serif','Noto Serif CJK SC',serif;">持仓</div>
<div class="t" style="left:1570.5px;width:200px;text-align:right;top:175.0px;height:16px;line-height:16px;font-size:14px;font-weight:bold;color:#ffff00;">386068</div>
<div class="t" style="left:1784.5px;top:175.8px;height:16px;line-height:16px;font-size:14px;color:#fff;font-family:'Liberation Serif','Noto Serif CJK SC',serif;">最低</div>
<div class="t" style="left:1693px;width:200px;text-align:right;top:175.0px;height:16px;line-height:16px;font-size:14px;font-weight:bold;color:#00f000;">73.46</div>
<div class="t" style="left:1663px;top:196.0px;height:16px;line-height:16px;font-size:14px;color:#fff;font-family:'Liberation Serif','Noto Serif CJK SC',serif;">单位</div>
<div class="t" style="left:1736px;top:196.0px;height:16px;line-height:16px;font-size:14px;color:#fff;font-family:'Liberation Serif','Noto Serif CJK SC',serif;">元<span style="padding:0 1.5px">/</span>吨</div>
<div class="t" style="left:1693px;width:200px;text-align:right;top:196.0px;height:16px;line-height:16px;font-size:14px;color:#fff;font-family:'Liberation Serif','Noto Serif CJK SC',serif;">美元<span style="padding:0 1.5px">/</span>桶</div>
<div class="t" style="left:1663px;top:219.0px;height:16px;line-height:16px;font-size:14px;color:#808080;font-family:'Liberation Serif','Noto Serif CJK SC',serif;">北京</div>
<div class="t" style="left:1599.5px;width:200px;text-align:right;top:219.0px;height:16px;line-height:16px;font-size:14px;color:#808080;font-family:'Liberation Serif','Noto Serif CJK SC',serif;">价格</div>
<div class="t" style="left:1693px;width:200px;text-align:right;top:219.0px;height:16px;line-height:16px;font-size:14px;color:#808080;font-family:'Liberation Serif','Noto Serif CJK SC',serif;">现手</div>
<div class="t" style="left:1663.5px;top:240.0px;height:16px;line-height:16px;font-size:14px;font-weight:bold;color:#fff;">16:15</div>
<div class="t" style="left:1600px;width:200px;text-align:right;top:240.0px;height:16px;line-height:16px;font-size:14px;font-weight:bold;color:#00f000;">73.62</div>
<div class="t" style="left:1693.5px;width:200px;text-align:right;top:240.0px;height:16px;line-height:16px;font-size:14px;font-weight:bold;color:#00f000;">2</div>
<div class="t" style="left:1497px;width:200px;text-align:right;top:262.0px;height:16px;line-height:16px;font-size:12px;color:#d8d8d8;">:57</div>
<div class="t" style="left:1600px;width:200px;text-align:right;top:262.0px;height:16px;line-height:16px;font-size:14px;font-weight:bold;color:#00f000;">73.62</div>
<div class="t" style="left:1693.5px;width:200px;text-align:right;top:262.0px;height:16px;line-height:16px;font-size:14px;font-weight:bold;color:#00f000;">5</div>
<div class="t" style="left:1497px;width:200px;text-align:right;top:284.0px;height:16px;line-height:16px;font-size:12px;color:#d8d8d8;">:58</div>
<div class="t" style="left:1600px;width:200px;text-align:right;top:284.0px;height:16px;line-height:16px;font-size:14px;font-weight:bold;color:#00f000;">73.62</div>
<div class="t" style="left:1693.5px;width:200px;text-align:right;top:284.0px;height:16px;line-height:16px;font-size:14px;font-weight:bold;color:#ff4040;">2</div>
<div class="t" style="left:1497px;width:200px;text-align:right;top:306.0px;height:16px;line-height:16px;font-size:12px;color:#d8d8d8;">:59</div>
<div class="t" style="left:1600px;width:200px;text-align:right;top:306.0px;height:16px;line-height:16px;font-size:14px;font-weight:bold;color:#00f000;">73.62</div>
<div class="t" style="left:1693.5px;width:200px;text-align:right;top:306.0px;height:16px;line-height:16px;font-size:14px;font-weight:bold;color:#ff4040;">1</div>
<div class="t" style="left:1663.5px;top:328.0px;height:16px;line-height:16px;font-size:14px;font-weight:bold;color:#fff;">16:16</div>
<div class="t" style="left:1600px;width:200px;text-align:right;top:328.0px;height:16px;line-height:16px;font-size:14px;font-weight:bold;color:#00f000;">73.61</div>
<div class="t" style="left:1693.5px;width:200px;text-align:right;top:328.0px;height:16px;line-height:16px;font-size:14px;font-weight:bold;color:#00f000;">1</div>
<div class="t" style="left:1497px;width:200px;text-align:right;top:350.0px;height:16px;line-height:16px;font-size:12px;color:#d8d8d8;">:05</div>
<div class="t" style="left:1600px;width:200px;text-align:right;top:350.0px;height:16px;line-height:16px;font-size:14px;font-weight:bold;color:#00f000;">73.61</div>
<div class="t" style="left:1693.5px;width:200px;text-align:right;top:350.0px;height:16px;line-height:16px;font-size:14px;font-weight:bold;color:#00f000;">3</div>
<div class="t" style="left:1497px;width:200px;text-align:right;top:372.0px;height:16px;line-height:16px;font-size:12px;color:#d8d8d8;">:06</div>
<div class="t" style="left:1600px;width:200px;text-align:right;top:372.0px;height:16px;line-height:16px;font-size:14px;font-weight:bold;color:#00f000;">73.61</div>
<div class="t" style="left:1693.5px;width:200px;text-align:right;top:372.0px;height:16px;line-height:16px;font-size:14px;font-weight:bold;color:#00f000;">10</div>
<div class="t" style="left:1497px;width:200px;text-align:right;top:394.0px;height:16px;line-height:16px;font-size:12px;color:#d8d8d8;">:07</div>
<div class="t" style="left:1600px;width:200px;text-align:right;top:394.0px;height:16px;line-height:16px;font-size:14px;font-weight:bold;color:#00f000;">73.61</div>
<div class="t" style="left:1693.5px;width:200px;text-align:right;top:394.0px;height:16px;line-height:16px;font-size:14px;font-weight:bold;color:#ff4040;">1</div>
<div class="t" style="left:1497px;width:200px;text-align:right;top:416.0px;height:16px;line-height:16px;font-size:12px;color:#d8d8d8;">:08</div>
<div class="t" style="left:1600px;width:200px;text-align:right;top:416.0px;height:16px;line-height:16px;font-size:14px;font-weight:bold;color:#00f000;">73.60</div>
<div class="t" style="left:1693.5px;width:200px;text-align:right;top:416.0px;height:16px;line-height:16px;font-size:14px;font-weight:bold;color:#00f000;">1</div>
<div class="t" style="left:1497px;width:200px;text-align:right;top:438.0px;height:16px;line-height:16px;font-size:12px;color:#d8d8d8;">:09</div>
<div class="t" style="left:1600px;width:200px;text-align:right;top:438.0px;height:16px;line-height:16px;font-size:14px;font-weight:bold;color:#00f000;">73.60</div>
<div class="t" style="left:1693.5px;width:200px;text-align:right;top:438.0px;height:16px;line-height:16px;font-size:14px;font-weight:bold;color:#00f000;">3</div>
<div class="t" style="left:1497px;width:200px;text-align:right;top:460.0px;height:16px;line-height:16px;font-size:12px;color:#d8d8d8;">:14</div>
<div class="t" style="left:1600px;width:200px;text-align:right;top:460.0px;height:16px;line-height:16px;font-size:14px;font-weight:bold;color:#00f000;">73.61</div>
<div class="t" style="left:1693.5px;width:200px;text-align:right;top:460.0px;height:16px;line-height:16px;font-size:14px;font-weight:bold;color:#ff4040;">1</div>
<div class="t" style="left:1497px;width:200px;text-align:right;top:482.0px;height:16px;line-height:16px;font-size:12px;color:#d8d8d8;">:18</div>
<div class="t" style="left:1600px;width:200px;text-align:right;top:482.0px;height:16px;line-height:16px;font-size:14px;font-weight:bold;color:#00f000;">73.61</div>
<div class="t" style="left:1693.5px;width:200px;text-align:right;top:482.0px;height:16px;line-height:16px;font-size:14px;font-weight:bold;color:#ff4040;">15</div>
<div class="t" style="left:1497px;width:200px;text-align:right;top:504.0px;height:16px;line-height:16px;font-size:12px;color:#d8d8d8;">:20</div>
<div class="t" style="left:1600px;width:200px;text-align:right;top:504.0px;height:16px;line-height:16px;font-size:14px;font-weight:bold;color:#00f000;">73.61</div>
<div class="t" style="left:1693.5px;width:200px;text-align:right;top:504.0px;height:16px;line-height:16px;font-size:14px;font-weight:bold;color:#ff4040;">3</div>
<div class="t" style="left:1497px;width:200px;text-align:right;top:526.0px;height:16px;line-height:16px;font-size:12px;color:#d8d8d8;">:21</div>
<div class="t" style="left:1600px;width:200px;text-align:right;top:526.0px;height:16px;line-height:16px;font-size:14px;font-weight:bold;color:#00f000;">73.61</div>
<div class="t" style="left:1693.5px;width:200px;text-align:right;top:526.0px;height:16px;line-height:16px;font-size:14px;font-weight:bold;color:#00f000;">1</div>
<div class="t" style="left:1497px;width:200px;text-align:right;top:548.0px;height:16px;line-height:16px;font-size:12px;color:#d8d8d8;">:22</div>
<div class="t" style="left:1600px;width:200px;text-align:right;top:548.0px;height:16px;line-height:16px;font-size:14px;font-weight:bold;color:#00f000;">73.61</div>
<div class="t" style="left:1693.5px;width:200px;text-align:right;top:548.0px;height:16px;line-height:16px;font-size:14px;font-weight:bold;color:#00f000;">1</div>
<div class="t" style="left:1497px;width:200px;text-align:right;top:570.0px;height:16px;line-height:16px;font-size:12px;color:#d8d8d8;">:26</div>
<div class="t" style="left:1600px;width:200px;text-align:right;top:570.0px;height:16px;line-height:16px;font-size:14px;font-weight:bold;color:#00f000;">73.62</div>
<div class="t" style="left:1693.5px;width:200px;text-align:right;top:570.0px;height:16px;line-height:16px;font-size:14px;font-weight:bold;color:#ff4040;">10</div>
<div class="t" style="left:1497px;width:200px;text-align:right;top:592.0px;height:16px;line-height:16px;font-size:12px;color:#d8d8d8;">:29</div>
<div class="t" style="left:1600px;width:200px;text-align:right;top:592.0px;height:16px;line-height:16px;font-size:14px;font-weight:bold;color:#00f000;">73.62</div>
<div class="t" style="left:1693.5px;width:200px;text-align:right;top:592.0px;height:16px;line-height:16px;font-size:14px;font-weight:bold;color:#ff4040;">3</div>
<div class="t" style="left:1497px;width:200px;text-align:right;top:614.0px;height:16px;line-height:16px;font-size:12px;color:#d8d8d8;">:30</div>
<div class="t" style="left:1600px;width:200px;text-align:right;top:614.0px;height:16px;line-height:16px;font-size:14px;font-weight:bold;color:#00f000;">73.62</div>
<div class="t" style="left:1693.5px;width:200px;text-align:right;top:614.0px;height:16px;line-height:16px;font-size:14px;font-weight:bold;color:#00f000;">7</div>
<div class="t" style="left:1497px;width:200px;text-align:right;top:636.0px;height:16px;line-height:16px;font-size:12px;color:#d8d8d8;">:32</div>
<div class="t" style="left:1600px;width:200px;text-align:right;top:636.0px;height:16px;line-height:16px;font-size:14px;font-weight:bold;color:#00f000;">73.62</div>
<div class="t" style="left:1693.5px;width:200px;text-align:right;top:636.0px;height:16px;line-height:16px;font-size:14px;font-weight:bold;color:#00f000;">11</div>
<div class="t" style="left:1497px;width:200px;text-align:right;top:658.0px;height:16px;line-height:16px;font-size:12px;color:#d8d8d8;">:34</div>
<div class="t" style="left:1600px;width:200px;text-align:right;top:658.0px;height:16px;line-height:16px;font-size:14px;font-weight:bold;color:#00f000;">73.62</div>
<div class="t" style="left:1693.5px;width:200px;text-align:right;top:658.0px;height:16px;line-height:16px;font-size:14px;font-weight:bold;color:#ff4040;">1</div>
<div class="t" style="left:1497px;width:200px;text-align:right;top:680.0px;height:16px;line-height:16px;font-size:12px;color:#d8d8d8;">:38</div>
<div class="t" style="left:1600px;width:200px;text-align:right;top:680.0px;height:16px;line-height:16px;font-size:14px;font-weight:bold;color:#00f000;">73.62</div>
<div class="t" style="left:1693.5px;width:200px;text-align:right;top:680.0px;height:16px;line-height:16px;font-size:14px;font-weight:bold;color:#ff4040;">1</div>
<div class="t" style="left:1497px;width:200px;text-align:right;top:702.0px;height:16px;line-height:16px;font-size:12px;color:#d8d8d8;">:39</div>
<div class="t" style="left:1600px;width:200px;text-align:right;top:702.0px;height:16px;line-height:16px;font-size:14px;font-weight:bold;color:#00f000;">73.62</div>
<div class="t" style="left:1693.5px;width:200px;text-align:right;top:702.0px;height:16px;line-height:16px;font-size:14px;font-weight:bold;color:#ff4040;">3</div>
<div class="t" style="left:1497px;width:200px;text-align:right;top:724.0px;height:16px;line-height:16px;font-size:12px;color:#d8d8d8;">:42</div>
<div class="t" style="left:1600px;width:200px;text-align:right;top:724.0px;height:16px;line-height:16px;font-size:14px;font-weight:bold;color:#00f000;">73.63</div>
<div class="t" style="left:1693.5px;width:200px;text-align:right;top:724.0px;height:16px;line-height:16px;font-size:14px;font-weight:bold;color:#ff4040;">1</div>
<div class="t" style="left:1497px;width:200px;text-align:right;top:746.0px;height:16px;line-height:16px;font-size:12px;color:#d8d8d8;">:45</div>
<div class="t" style="left:1600px;width:200px;text-align:right;top:746.0px;height:16px;line-height:16px;font-size:14px;font-weight:bold;color:#00f000;">73.62</div>
<div class="t" style="left:1693.5px;width:200px;text-align:right;top:746.0px;height:16px;line-height:16px;font-size:14px;font-weight:bold;color:#00f000;">1</div>
<div class="t" style="left:1497px;width:200px;text-align:right;top:768.0px;height:16px;line-height:16px;font-size:12px;color:#d8d8d8;">:46</div>
<div class="t" style="left:1600px;width:200px;text-align:right;top:768.0px;height:16px;line-height:16px;font-size:14px;font-weight:bold;color:#00f000;">73.62</div>
<div class="t" style="left:1693.5px;width:200px;text-align:right;top:768.0px;height:16px;line-height:16px;font-size:14px;font-weight:bold;color:#00f000;">11</div>
<div class="t" style="left:1497px;width:200px;text-align:right;top:790.0px;height:16px;line-height:16px;font-size:12px;color:#d8d8d8;">:50</div>
<div class="t" style="left:1600px;width:200px;text-align:right;top:790.0px;height:16px;line-height:16px;font-size:14px;font-weight:bold;color:#00f000;">73.62</div>
<div class="t" style="left:1693.5px;width:200px;text-align:right;top:790.0px;height:16px;line-height:16px;font-size:14px;font-weight:bold;color:#ff4040;">1</div>
<div class="t" style="left:1497px;width:200px;text-align:right;top:812.0px;height:16px;line-height:16px;font-size:12px;color:#d8d8d8;">:50</div>
<div class="t" style="left:1600px;width:200px;text-align:right;top:812.0px;height:16px;line-height:16px;font-size:14px;font-weight:bold;color:#00f000;">73.62</div>
<div class="t" style="left:1693.5px;width:200px;text-align:right;top:812.0px;height:16px;line-height:16px;font-size:14px;font-weight:bold;color:#ff4040;">2</div>
<div class="t" style="left:1497px;width:200px;text-align:right;top:834.0px;height:16px;line-height:16px;font-size:12px;color:#d8d8d8;">:52</div>
<div class="t" style="left:1600px;width:200px;text-align:right;top:834.0px;height:16px;line-height:16px;font-size:14px;font-weight:bold;color:#00f000;">73.62</div>
<div class="t" style="left:1693.5px;width:200px;text-align:right;top:834.0px;height:16px;line-height:16px;font-size:14px;font-weight:bold;color:#ff4040;">1</div>
<div class="t" style="left:1497px;width:200px;text-align:right;top:856.0px;height:16px;line-height:16px;font-size:12px;color:#d8d8d8;">:55</div>
<div class="t" style="left:1600px;width:200px;text-align:right;top:856.0px;height:16px;line-height:16px;font-size:14px;font-weight:bold;color:#00f000;">73.62</div>
<div class="t" style="left:1693.5px;width:200px;text-align:right;top:856.0px;height:16px;line-height:16px;font-size:14px;font-weight:bold;color:#ff4040;">8</div>
<div class="t" style="left:1497px;width:200px;text-align:right;top:878.0px;height:16px;line-height:16px;font-size:12px;color:#d8d8d8;">:57</div>
<div class="t" style="left:1600px;width:200px;text-align:right;top:878.0px;height:16px;line-height:16px;font-size:14px;font-weight:bold;color:#00f000;">73.62</div>
<div class="t" style="left:1693.5px;width:200px;text-align:right;top:878.0px;height:16px;line-height:16px;font-size:14px;font-weight:bold;color:#00f000;">3</div>
<div class="t" style="left:1497px;width:200px;text-align:right;top:900.0px;height:16px;line-height:16px;font-size:12px;color:#d8d8d8;">:59</div>
<div class="t" style="left:1600px;width:200px;text-align:right;top:900.0px;height:16px;line-height:16px;font-size:14px;font-weight:bold;color:#00f000;">73.62</div>
<div class="t" style="left:1693.5px;width:200px;text-align:right;top:900.0px;height:16px;line-height:16px;font-size:14px;font-weight:bold;color:#00f000;">1</div>
<div class="t" style="left:1663.5px;top:922.0px;height:16px;line-height:16px;font-size:14px;font-weight:bold;color:#fff;">16:17</div>
<div class="t" style="left:1600px;width:200px;text-align:right;top:922.0px;height:16px;line-height:16px;font-size:14px;font-weight:bold;color:#00f000;">73.62</div>
<div class="t" style="left:1693.5px;width:200px;text-align:right;top:922.0px;height:16px;line-height:16px;font-size:14px;font-weight:bold;color:#00f000;">1</div>
<div class="t" style="left:1660.5px;width:30px;text-align:center;top:953.5px;height:16px;line-height:16px;font-size:12px;font-weight:500;color:#fff;font-family:'Noto Serif CJK SC',serif;">笔</div>
<div class="t" style="left:1746px;top:935.2px;height:20px;line-height:20px;font-size:18px;font-weight:900;font-family:'Noto Sans CJK SC',sans-serif;transform:scaleX(1.66) skewX(-14deg);transform-origin:0 50%;"><span style="color:#6a1408">中亿</span><span style="color:#1e1e1e">财经网</span></div>
<div class="t" style="left:1746px;top:954.0px;height:12px;line-height:12px;font-size:11px;font-style:italic;color:#1e1e1e;letter-spacing:0.95px">www.zhongyi9999.com</div>
<div style="position:absolute;left:1697px;top:954px;width:201px;height:1px;background:#c81410"></div>
</body></html>
